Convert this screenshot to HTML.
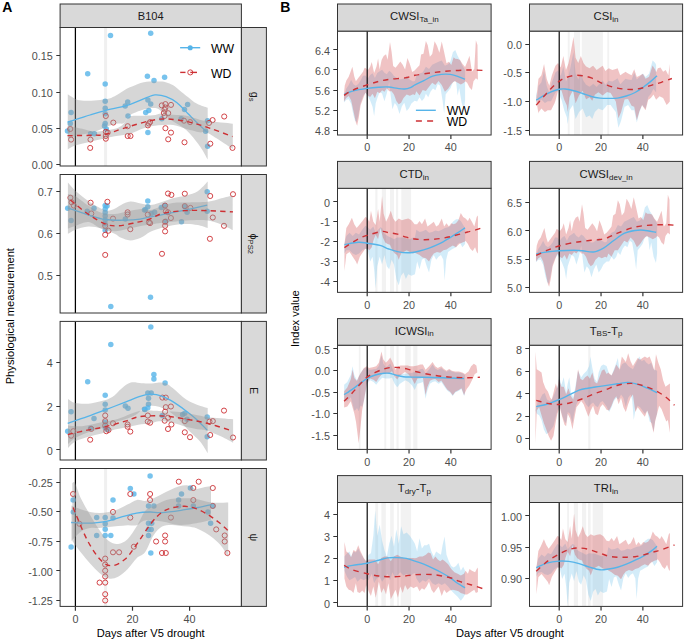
<!DOCTYPE html><html><head><meta charset="utf-8"><style>html,body{margin:0;padding:0;background:#fff;}svg{display:block;}text{font-family:"Liberation Sans",sans-serif;}</style></head><body>
<svg width="685" height="642" viewBox="0 0 685 642">
<rect x="0" y="0" width="685" height="642" fill="#fff"/>
<rect x="60.1" y="4" width="181.3" height="23.5" fill="#D9D9D9" stroke="#333" stroke-width="1"/>
<text x="150.75" y="19.9" font-size="11.1" fill="#1A1A1A" text-anchor="middle">B104</text>
<clipPath id="cA1"><rect x="60.1" y="27.5" width="181.3" height="138.5"/></clipPath>
<g clip-path="url(#cA1)">
<rect x="104.1" y="27.5" width="3" height="138.5" fill="#F0F0F0"/>
<line x1="75.4" y1="27.5" x2="75.4" y2="166" stroke="#000" stroke-width="1.25"/>
<circle cx="110.5" cy="35.5" r="2.75" fill="#56B4E9" fill-opacity="0.8"/>
<circle cx="150.7" cy="33.3" r="2.75" fill="#56B4E9" fill-opacity="0.8"/>
<circle cx="87.7" cy="73.8" r="2.75" fill="#56B4E9" fill-opacity="0.8"/>
<circle cx="147.4" cy="76.3" r="2.75" fill="#56B4E9" fill-opacity="0.8"/>
<circle cx="154" cy="80.5" r="2.75" fill="#56B4E9" fill-opacity="0.8"/>
<circle cx="164.6" cy="77.2" r="2.75" fill="#56B4E9" fill-opacity="0.8"/>
<circle cx="105.2" cy="84.1" r="2.75" fill="#56B4E9" fill-opacity="0.8"/>
<circle cx="105.2" cy="101.3" r="2.75" fill="#56B4E9" fill-opacity="0.8"/>
<circle cx="105.2" cy="108.2" r="2.75" fill="#56B4E9" fill-opacity="0.8"/>
<circle cx="105.2" cy="113.8" r="2.75" fill="#56B4E9" fill-opacity="0.8"/>
<circle cx="105.2" cy="123.5" r="2.75" fill="#56B4E9" fill-opacity="0.8"/>
<circle cx="106.3" cy="129" r="2.75" fill="#56B4E9" fill-opacity="0.8"/>
<circle cx="104.5" cy="126" r="2.75" fill="#56B4E9" fill-opacity="0.8"/>
<circle cx="71.1" cy="112.4" r="2.75" fill="#56B4E9" fill-opacity="0.8"/>
<circle cx="70.3" cy="123.5" r="2.75" fill="#56B4E9" fill-opacity="0.8"/>
<circle cx="67.5" cy="131" r="2.75" fill="#56B4E9" fill-opacity="0.8"/>
<circle cx="90.5" cy="133.7" r="2.75" fill="#56B4E9" fill-opacity="0.8"/>
<circle cx="94.4" cy="133.7" r="2.75" fill="#56B4E9" fill-opacity="0.8"/>
<circle cx="127.7" cy="102.1" r="2.75" fill="#56B4E9" fill-opacity="0.8"/>
<circle cx="125.2" cy="106" r="2.75" fill="#56B4E9" fill-opacity="0.8"/>
<circle cx="128" cy="116" r="2.75" fill="#56B4E9" fill-opacity="0.8"/>
<circle cx="147.9" cy="99.9" r="2.75" fill="#56B4E9" fill-opacity="0.8"/>
<circle cx="150.7" cy="104" r="2.75" fill="#56B4E9" fill-opacity="0.8"/>
<circle cx="145.7" cy="112.4" r="2.75" fill="#56B4E9" fill-opacity="0.8"/>
<circle cx="148.8" cy="110.4" r="2.75" fill="#56B4E9" fill-opacity="0.8"/>
<circle cx="147.9" cy="132.6" r="2.75" fill="#56B4E9" fill-opacity="0.8"/>
<circle cx="161.8" cy="118.8" r="2.75" fill="#56B4E9" fill-opacity="0.8"/>
<circle cx="184.5" cy="109.6" r="2.75" fill="#56B4E9" fill-opacity="0.8"/>
<circle cx="187.6" cy="104.6" r="2.75" fill="#56B4E9" fill-opacity="0.8"/>
<circle cx="181.2" cy="118.8" r="2.75" fill="#56B4E9" fill-opacity="0.8"/>
<circle cx="207.6" cy="120.7" r="2.75" fill="#56B4E9" fill-opacity="0.8"/>
<circle cx="205.6" cy="131.2" r="2.75" fill="#56B4E9" fill-opacity="0.8"/>
<circle cx="207.6" cy="146.2" r="2.75" fill="#56B4E9" fill-opacity="0.8"/>
<circle cx="70.3" cy="129" r="2.55" fill="none" stroke="#CD3034" stroke-width="0.9"/>
<circle cx="71.1" cy="139.6" r="2.55" fill="none" stroke="#CD3034" stroke-width="0.9"/>
<circle cx="90.5" cy="139.6" r="2.55" fill="none" stroke="#CD3034" stroke-width="0.9"/>
<circle cx="90.2" cy="147.9" r="2.55" fill="none" stroke="#CD3034" stroke-width="0.9"/>
<circle cx="105.8" cy="116" r="2.55" fill="none" stroke="#CD3034" stroke-width="0.9"/>
<circle cx="105.8" cy="131.8" r="2.55" fill="none" stroke="#CD3034" stroke-width="0.9"/>
<circle cx="105.8" cy="136" r="2.55" fill="none" stroke="#CD3034" stroke-width="0.9"/>
<circle cx="105.8" cy="138.7" r="2.55" fill="none" stroke="#CD3034" stroke-width="0.9"/>
<circle cx="107.7" cy="132.6" r="2.55" fill="none" stroke="#CD3034" stroke-width="0.9"/>
<circle cx="113.3" cy="122.6" r="2.55" fill="none" stroke="#CD3034" stroke-width="0.9"/>
<circle cx="127.7" cy="126.2" r="2.55" fill="none" stroke="#CD3034" stroke-width="0.9"/>
<circle cx="127.7" cy="136" r="2.55" fill="none" stroke="#CD3034" stroke-width="0.9"/>
<circle cx="130.5" cy="136" r="2.55" fill="none" stroke="#CD3034" stroke-width="0.9"/>
<circle cx="147.9" cy="125.4" r="2.55" fill="none" stroke="#CD3034" stroke-width="0.9"/>
<circle cx="148.8" cy="123.5" r="2.55" fill="none" stroke="#CD3034" stroke-width="0.9"/>
<circle cx="150.1" cy="122.1" r="2.55" fill="none" stroke="#CD3034" stroke-width="0.9"/>
<circle cx="161.8" cy="105.4" r="2.55" fill="none" stroke="#CD3034" stroke-width="0.9"/>
<circle cx="165.4" cy="104.1" r="2.55" fill="none" stroke="#CD3034" stroke-width="0.9"/>
<circle cx="171" cy="104.9" r="2.55" fill="none" stroke="#CD3034" stroke-width="0.9"/>
<circle cx="164.6" cy="109.6" r="2.55" fill="none" stroke="#CD3034" stroke-width="0.9"/>
<circle cx="168.2" cy="113.2" r="2.55" fill="none" stroke="#CD3034" stroke-width="0.9"/>
<circle cx="164.6" cy="116" r="2.55" fill="none" stroke="#CD3034" stroke-width="0.9"/>
<circle cx="165.4" cy="128.2" r="2.55" fill="none" stroke="#CD3034" stroke-width="0.9"/>
<circle cx="171" cy="132.6" r="2.55" fill="none" stroke="#CD3034" stroke-width="0.9"/>
<circle cx="168.2" cy="139.3" r="2.55" fill="none" stroke="#CD3034" stroke-width="0.9"/>
<circle cx="184" cy="120.7" r="2.55" fill="none" stroke="#CD3034" stroke-width="0.9"/>
<circle cx="190.1" cy="122.1" r="2.55" fill="none" stroke="#CD3034" stroke-width="0.9"/>
<circle cx="184.5" cy="142.3" r="2.55" fill="none" stroke="#CD3034" stroke-width="0.9"/>
<circle cx="209" cy="122.9" r="2.55" fill="none" stroke="#CD3034" stroke-width="0.9"/>
<circle cx="212.6" cy="120.1" r="2.55" fill="none" stroke="#CD3034" stroke-width="0.9"/>
<circle cx="224.2" cy="116.5" r="2.55" fill="none" stroke="#CD3034" stroke-width="0.9"/>
<circle cx="210.3" cy="143.7" r="2.55" fill="none" stroke="#CD3034" stroke-width="0.9"/>
<circle cx="232.5" cy="147.9" r="2.55" fill="none" stroke="#CD3034" stroke-width="0.9"/>
<circle cx="165.4" cy="107.5" r="2.55" fill="none" stroke="#CD3034" stroke-width="0.9"/>
<circle cx="163.8" cy="113" r="2.55" fill="none" stroke="#CD3034" stroke-width="0.9"/>
<path d="M67.8,94.3C68.78,94.9 71.75,96.92 73.7,97.9C75.65,98.88 76.58,99.72 79.5,100.2C82.42,100.68 87.3,100.9 91.2,100.8C95.1,100.7 99.58,100.08 102.9,99.6C106.22,99.12 108.57,98.78 111.1,97.9C113.63,97.02 115.77,95.67 118.1,94.3C120.43,92.93 122.78,91 125.1,89.7C127.42,88.4 128.88,87.75 132,86.5C135.12,85.25 139.4,83.03 143.8,82.2C148.2,81.37 154.75,81.5 158.4,81.5C162.05,81.5 163.23,81.57 165.7,82.2C168.17,82.83 170.77,83.83 173.2,85.3C175.63,86.77 178.08,89.23 180.3,91C182.52,92.77 183.7,93.77 186.5,95.9C189.3,98.03 193.57,101.82 197.1,103.8C200.63,105.78 205.93,107.13 207.7,107.8L207.7,159.5C206.37,157.25 203.23,150.87 199.7,146C196.17,141.13 190.92,134.38 186.5,130.3C182.08,126.22 176.62,123.88 173.2,121.5C169.78,119.12 167.98,117.68 166,116C164.02,114.32 163.05,112.73 161.3,111.4C159.55,110.07 158.42,108.32 155.5,108C152.58,107.68 148.18,108.25 143.8,109.5C139.42,110.75 132.5,113.25 129.2,115.5C125.9,117.75 125.85,121.65 124,123C122.15,124.35 120.65,123.12 118.1,123.6C115.55,124.08 112.6,124.55 108.7,125.9C104.8,127.25 98.65,130.35 94.7,131.7C90.75,133.05 88.5,133.22 85,134C81.5,134.78 76.57,135.73 73.7,136.4C70.83,137.07 68.78,137.73 67.8,138Z" fill="#999999" fill-opacity="0.4"/>
<path d="M67.5,122.1C69.58,121.45 76.25,119.38 80,118.2C83.75,117.02 85.83,116.27 90,115C94.17,113.73 98.82,112.2 105,110.6C111.18,109 120.18,107.55 127.1,105.4C134.02,103.25 141.87,99.45 146.5,97.7C151.13,95.95 151.65,95.08 154.9,94.9C158.15,94.72 162.32,95.3 166,96.6C169.68,97.9 173.32,99.83 177,102.7C180.68,105.57 184.4,110.1 188.1,113.8C191.8,117.5 195.98,121.8 199.2,124.9C202.42,128 206.03,131.15 207.4,132.4" fill="none" stroke="#56B4E9" stroke-width="1.3"/>
<path d="M67.8,126C68.78,126.17 70.83,126.42 73.7,127C76.57,127.58 81.5,128.72 85,129.5C88.5,130.28 90.75,131.62 94.7,131.7C98.65,131.78 104.8,130.67 108.7,130C112.6,129.33 115.55,128.78 118.1,127.7C120.65,126.62 122.15,125.37 124,123.5C125.85,121.63 125.9,117.78 129.2,116.5C132.5,115.22 139.42,116.05 143.8,115.8C148.18,115.55 152.8,115.33 155.5,115C158.2,114.67 157.05,113.85 160,113.8C162.95,113.75 168.78,114.37 173.2,114.7C177.62,115.03 182.08,114.97 186.5,115.8C190.92,116.63 196.17,118.82 199.7,119.7C203.23,120.58 202.18,120.43 207.7,121.1C213.22,121.77 228.62,123.27 232.8,123.7L232.8,148.9C228.62,146.25 213.22,135.77 207.7,133C202.18,130.23 203.23,132.97 199.7,132.3C196.17,131.63 190.92,130.22 186.5,129C182.08,127.78 177.88,125.62 173.2,125C168.52,124.38 163.3,124.77 158.4,125.3C153.5,125.83 148.67,126.75 143.8,128.2C138.93,129.65 134.07,132.67 129.2,134C124.33,135.33 119.47,135.28 114.6,136.2C109.73,137.12 104.93,138.37 100,139.5C95.07,140.63 89.38,141.92 85,143C80.62,144.08 76.57,144.92 73.7,146C70.83,147.08 68.78,148.92 67.8,149.5Z" fill="#999999" fill-opacity="0.4"/>
<path d="M67.5,135.6C69.92,135.58 77.42,135.57 82,135.5C86.58,135.43 91.15,135.37 95,135.2C98.85,135.03 100.37,135.63 105.1,134.5C109.83,133.37 115.98,130.68 123.4,128.4C130.82,126.12 142.37,122.37 149.6,120.8C156.83,119.23 160.3,118.82 166.8,119C173.3,119.18 181.33,120.33 188.6,121.9C195.87,123.47 203.08,125.95 210.4,128.4C217.72,130.85 228.82,135.23 232.5,136.6" fill="none" stroke="#CD3034" stroke-width="1.4" stroke-dasharray="5.2,4.2"/>
</g>
<rect x="60.1" y="27.5" width="181.3" height="138.5" fill="none" stroke="#333" stroke-width="1"/>
<rect x="241.4" y="27.5" width="25" height="138.5" fill="#D9D9D9" stroke="#333" stroke-width="1"/>
<g transform="translate(254.7,96.75) rotate(90)"><text x="0" y="0" font-size="10.8" fill="#1A1A1A" text-anchor="middle" dominant-baseline="central">g<tspan font-size="7.6" dy="2.6">s</tspan></text></g>
<line x1="56.3" y1="164.5" x2="60.1" y2="164.5" stroke="#333" stroke-width="1"/>
<text x="52.8" y="169" font-size="10.8" fill="#4D4D4D" text-anchor="end">0.00</text>
<line x1="56.3" y1="128.5" x2="60.1" y2="128.5" stroke="#333" stroke-width="1"/>
<text x="52.8" y="133" font-size="10.8" fill="#4D4D4D" text-anchor="end">0.05</text>
<line x1="56.3" y1="92.5" x2="60.1" y2="92.5" stroke="#333" stroke-width="1"/>
<text x="52.8" y="96.9" font-size="10.8" fill="#4D4D4D" text-anchor="end">0.10</text>
<line x1="56.3" y1="55.5" x2="60.1" y2="55.5" stroke="#333" stroke-width="1"/>
<text x="52.8" y="60.3" font-size="10.8" fill="#4D4D4D" text-anchor="end">0.15</text>
<clipPath id="cA2"><rect x="60.1" y="174.5" width="181.3" height="138.5"/></clipPath>
<g clip-path="url(#cA2)">
<line x1="75.4" y1="174.5" x2="75.4" y2="313" stroke="#000" stroke-width="1.25"/>
<circle cx="67.7" cy="208.3" r="2.75" fill="#56B4E9" fill-opacity="0.8"/>
<circle cx="71.1" cy="220.6" r="2.75" fill="#56B4E9" fill-opacity="0.8"/>
<circle cx="87.2" cy="211.2" r="2.75" fill="#56B4E9" fill-opacity="0.8"/>
<circle cx="94" cy="208.3" r="2.75" fill="#56B4E9" fill-opacity="0.8"/>
<circle cx="105.2" cy="205.6" r="2.75" fill="#56B4E9" fill-opacity="0.8"/>
<circle cx="105.2" cy="209" r="2.75" fill="#56B4E9" fill-opacity="0.8"/>
<circle cx="105.2" cy="212.5" r="2.75" fill="#56B4E9" fill-opacity="0.8"/>
<circle cx="105.2" cy="216" r="2.75" fill="#56B4E9" fill-opacity="0.8"/>
<circle cx="105.2" cy="220" r="2.75" fill="#56B4E9" fill-opacity="0.8"/>
<circle cx="105.2" cy="224" r="2.75" fill="#56B4E9" fill-opacity="0.8"/>
<circle cx="105.2" cy="230.3" r="2.75" fill="#56B4E9" fill-opacity="0.8"/>
<circle cx="107" cy="206" r="2.75" fill="#56B4E9" fill-opacity="0.8"/>
<circle cx="110.8" cy="306.5" r="2.75" fill="#56B4E9" fill-opacity="0.8"/>
<circle cx="125.3" cy="219.1" r="2.75" fill="#56B4E9" fill-opacity="0.8"/>
<circle cx="147.8" cy="201.1" r="2.75" fill="#56B4E9" fill-opacity="0.8"/>
<circle cx="145.5" cy="209.7" r="2.75" fill="#56B4E9" fill-opacity="0.8"/>
<circle cx="150.5" cy="297.3" r="2.75" fill="#56B4E9" fill-opacity="0.8"/>
<circle cx="147.8" cy="206.7" r="2.75" fill="#56B4E9" fill-opacity="0.8"/>
<circle cx="144.5" cy="210.1" r="2.75" fill="#56B4E9" fill-opacity="0.8"/>
<circle cx="151.2" cy="213.5" r="2.75" fill="#56B4E9" fill-opacity="0.8"/>
<circle cx="154.6" cy="212.3" r="2.75" fill="#56B4E9" fill-opacity="0.8"/>
<circle cx="161.3" cy="207.4" r="2.75" fill="#56B4E9" fill-opacity="0.8"/>
<circle cx="164.7" cy="205.6" r="2.75" fill="#56B4E9" fill-opacity="0.8"/>
<circle cx="165.8" cy="221.3" r="2.75" fill="#56B4E9" fill-opacity="0.8"/>
<circle cx="181.5" cy="221.8" r="2.75" fill="#56B4E9" fill-opacity="0.8"/>
<circle cx="184.8" cy="206.7" r="2.75" fill="#56B4E9" fill-opacity="0.8"/>
<circle cx="187.1" cy="212.3" r="2.75" fill="#56B4E9" fill-opacity="0.8"/>
<circle cx="207.2" cy="191.7" r="2.75" fill="#56B4E9" fill-opacity="0.8"/>
<circle cx="207.2" cy="211.2" r="2.75" fill="#56B4E9" fill-opacity="0.8"/>
<circle cx="70.4" cy="197.8" r="2.55" fill="none" stroke="#CD3034" stroke-width="0.9"/>
<circle cx="71.6" cy="202.3" r="2.55" fill="none" stroke="#CD3034" stroke-width="0.9"/>
<circle cx="73.8" cy="205.6" r="2.55" fill="none" stroke="#CD3034" stroke-width="0.9"/>
<circle cx="90.6" cy="202.7" r="2.55" fill="none" stroke="#CD3034" stroke-width="0.9"/>
<circle cx="91.3" cy="213.5" r="2.55" fill="none" stroke="#CD3034" stroke-width="0.9"/>
<circle cx="107.4" cy="201.8" r="2.55" fill="none" stroke="#CD3034" stroke-width="0.9"/>
<circle cx="113" cy="218.6" r="2.55" fill="none" stroke="#CD3034" stroke-width="0.9"/>
<circle cx="105.2" cy="225.8" r="2.55" fill="none" stroke="#CD3034" stroke-width="0.9"/>
<circle cx="105.2" cy="234.8" r="2.55" fill="none" stroke="#CD3034" stroke-width="0.9"/>
<circle cx="108.5" cy="230.7" r="2.55" fill="none" stroke="#CD3034" stroke-width="0.9"/>
<circle cx="105.2" cy="254.9" r="2.55" fill="none" stroke="#CD3034" stroke-width="0.9"/>
<circle cx="127.6" cy="212.3" r="2.55" fill="none" stroke="#CD3034" stroke-width="0.9"/>
<circle cx="127.6" cy="214.5" r="2.55" fill="none" stroke="#CD3034" stroke-width="0.9"/>
<circle cx="130.3" cy="229.2" r="2.55" fill="none" stroke="#CD3034" stroke-width="0.9"/>
<circle cx="147.8" cy="214.6" r="2.55" fill="none" stroke="#CD3034" stroke-width="0.9"/>
<circle cx="148.9" cy="222.4" r="2.55" fill="none" stroke="#CD3034" stroke-width="0.9"/>
<circle cx="168" cy="193.5" r="2.55" fill="none" stroke="#CD3034" stroke-width="0.9"/>
<circle cx="171.4" cy="194.9" r="2.55" fill="none" stroke="#CD3034" stroke-width="0.9"/>
<circle cx="184.8" cy="193.7" r="2.55" fill="none" stroke="#CD3034" stroke-width="0.9"/>
<circle cx="210.2" cy="196" r="2.55" fill="none" stroke="#CD3034" stroke-width="0.9"/>
<circle cx="233" cy="194.2" r="2.55" fill="none" stroke="#CD3034" stroke-width="0.9"/>
<circle cx="165.1" cy="205.6" r="2.55" fill="none" stroke="#CD3034" stroke-width="0.9"/>
<circle cx="165.8" cy="211.2" r="2.55" fill="none" stroke="#CD3034" stroke-width="0.9"/>
<circle cx="168" cy="212.3" r="2.55" fill="none" stroke="#CD3034" stroke-width="0.9"/>
<circle cx="184.8" cy="206.1" r="2.55" fill="none" stroke="#CD3034" stroke-width="0.9"/>
<circle cx="190.4" cy="207.9" r="2.55" fill="none" stroke="#CD3034" stroke-width="0.9"/>
<circle cx="170.9" cy="218" r="2.55" fill="none" stroke="#CD3034" stroke-width="0.9"/>
<circle cx="165.1" cy="221.8" r="2.55" fill="none" stroke="#CD3034" stroke-width="0.9"/>
<circle cx="165.1" cy="225.8" r="2.55" fill="none" stroke="#CD3034" stroke-width="0.9"/>
<circle cx="165.1" cy="231.4" r="2.55" fill="none" stroke="#CD3034" stroke-width="0.9"/>
<circle cx="150.1" cy="223.1" r="2.55" fill="none" stroke="#CD3034" stroke-width="0.9"/>
<circle cx="212.8" cy="217.5" r="2.55" fill="none" stroke="#CD3034" stroke-width="0.9"/>
<circle cx="224" cy="225.8" r="2.55" fill="none" stroke="#CD3034" stroke-width="0.9"/>
<circle cx="209.9" cy="238.8" r="2.55" fill="none" stroke="#CD3034" stroke-width="0.9"/>
<circle cx="162" cy="253.8" r="2.55" fill="none" stroke="#CD3034" stroke-width="0.9"/>
<path d="M67.9,182.6C69.1,183.92 71.7,187.43 75.1,190.5C78.5,193.57 83.92,197.95 88.3,201C92.68,204.05 98.12,207.17 101.4,208.8C104.68,210.43 105.8,210.8 108,210.8C110.2,210.8 112.42,209.78 114.6,208.8C116.78,207.82 118.48,206.1 121.1,204.9C123.72,203.7 127.02,201.83 130.3,201.6C133.58,201.37 137.52,202.93 140.8,203.5C144.08,204.07 146.98,205.08 150,205C153.02,204.92 155.12,204.13 158.9,203C162.68,201.87 168.08,199.47 172.7,198.2C177.32,196.93 182.43,196.55 186.6,195.4C190.77,194.25 194.18,193.62 197.7,191.3C201.22,188.98 206.03,183.13 207.7,181.5L207.7,228C206.03,227.5 201.22,225.68 197.7,225C194.18,224.32 190.77,223.87 186.6,223.9C182.43,223.93 177.32,224.4 172.7,225.2C168.08,226 162.68,227.57 158.9,228.7C155.12,229.83 153.02,230.48 150,232C146.98,233.52 144.08,236.4 140.8,237.8C137.52,239.2 133.58,240.4 130.3,240.4C127.02,240.4 123.72,238.9 121.1,237.8C118.48,236.7 117.88,235.33 114.6,233.8C111.32,232.27 105.78,229.8 101.4,228.6C97.02,227.4 92.68,226.38 88.3,226.6C83.92,226.82 78.5,228.7 75.1,229.9C71.7,231.1 69.1,233.15 67.9,233.8Z" fill="#999999" fill-opacity="0.4"/>
<path d="M67.7,207.9C70.95,209.02 80.95,212.67 87.2,214.6C93.45,216.53 98.85,218.57 105.2,219.5C111.55,220.43 119.5,220.27 125.3,220.2C131.1,220.13 133.82,220.03 140,219.1C146.18,218.17 154.93,216.1 162.4,214.6C169.87,213.1 177.33,211.67 184.8,210.1C192.27,208.53 203.47,206.02 207.2,205.2" fill="none" stroke="#56B4E9" stroke-width="1.3"/>
<path d="M67.9,194C69.1,194.33 71.7,194.07 75.1,196C78.5,197.93 83.92,202.8 88.3,205.6C92.68,208.4 97.02,211.4 101.4,212.8C105.78,214.2 110.33,214.22 114.6,214C118.87,213.78 122.63,212.33 127,211.5C131.37,210.67 136.97,209.25 140.8,209C144.63,208.75 146.98,210.3 150,210C153.02,209.7 155.12,208.37 158.9,207.2C162.68,206.03 168.08,203.8 172.7,203C177.32,202.2 180.77,202.62 186.6,202.4C192.43,202.18 201.92,202.4 207.7,201.7C213.48,201 217.13,199.25 221.3,198.2C225.47,197.15 230.8,195.87 232.7,195.4L232.7,230.1C230.8,229.17 225.47,226.12 221.3,224.5C217.13,222.88 213.48,221.08 207.7,220.4C201.92,219.72 192.43,220.17 186.6,220.4C180.77,220.63 177.32,221.33 172.7,221.8C168.08,222.27 162.68,222.75 158.9,223.2C155.12,223.65 153.02,224.03 150,224.5C146.98,224.97 144.63,225.25 140.8,226C136.97,226.75 131.37,228.13 127,229C122.63,229.87 118.87,231.27 114.6,231.2C110.33,231.13 105.78,230.13 101.4,228.6C97.02,227.07 92.68,222.43 88.3,222C83.92,221.57 78.5,224.9 75.1,226C71.7,227.1 69.1,228.17 67.9,228.6Z" fill="#999999" fill-opacity="0.4"/>
<path d="M70.4,200C73.2,202.25 81.4,209.5 87.2,213.5C93,217.5 99.97,221.95 105.2,224C110.43,226.05 113.37,226.07 118.6,225.8C123.83,225.53 131.37,223.53 136.6,222.4C141.83,221.27 145.7,220.48 150,219C154.3,217.52 156.6,214.9 162.4,213.5C168.2,212.1 177.33,211.08 184.8,210.6C192.27,210.12 199.17,210.38 207.2,210.6C215.23,210.82 228.7,211.68 233,211.9" fill="none" stroke="#CD3034" stroke-width="1.4" stroke-dasharray="5.2,4.2"/>
</g>
<rect x="60.1" y="174.5" width="181.3" height="138.5" fill="none" stroke="#333" stroke-width="1"/>
<rect x="241.4" y="174.5" width="25" height="138.5" fill="#D9D9D9" stroke="#333" stroke-width="1"/>
<g transform="translate(253.9,243.75) rotate(90)"><text x="0" y="0" font-size="10.8" fill="#1A1A1A" text-anchor="middle" dominant-baseline="central">ϕ<tspan font-size="7.6" dy="2.6">PS2</tspan></text></g>
<line x1="56.3" y1="275.5" x2="60.1" y2="275.5" stroke="#333" stroke-width="1"/>
<text x="52.8" y="280.2" font-size="10.8" fill="#4D4D4D" text-anchor="end">0.5</text>
<line x1="56.3" y1="233.5" x2="60.1" y2="233.5" stroke="#333" stroke-width="1"/>
<text x="52.8" y="238.3" font-size="10.8" fill="#4D4D4D" text-anchor="end">0.6</text>
<line x1="56.3" y1="191.5" x2="60.1" y2="191.5" stroke="#333" stroke-width="1"/>
<text x="52.8" y="196.4" font-size="10.8" fill="#4D4D4D" text-anchor="end">0.7</text>
<clipPath id="cA3"><rect x="60.1" y="321.4" width="181.3" height="138.6"/></clipPath>
<g clip-path="url(#cA3)">
<line x1="75.4" y1="321.4" x2="75.4" y2="460" stroke="#000" stroke-width="1.25"/>
<circle cx="71.1" cy="411.7" r="2.75" fill="#56B4E9" fill-opacity="0.8"/>
<circle cx="67.7" cy="431.2" r="2.75" fill="#56B4E9" fill-opacity="0.8"/>
<circle cx="87.7" cy="381.7" r="2.75" fill="#56B4E9" fill-opacity="0.8"/>
<circle cx="94" cy="418.4" r="2.75" fill="#56B4E9" fill-opacity="0.8"/>
<circle cx="105.2" cy="395.3" r="2.75" fill="#56B4E9" fill-opacity="0.8"/>
<circle cx="105.2" cy="404.3" r="2.75" fill="#56B4E9" fill-opacity="0.8"/>
<circle cx="105.2" cy="409.9" r="2.75" fill="#56B4E9" fill-opacity="0.8"/>
<circle cx="105.2" cy="422.2" r="2.75" fill="#56B4E9" fill-opacity="0.8"/>
<circle cx="105.2" cy="427.8" r="2.75" fill="#56B4E9" fill-opacity="0.8"/>
<circle cx="107.4" cy="429.6" r="2.75" fill="#56B4E9" fill-opacity="0.8"/>
<circle cx="110.8" cy="344.4" r="2.75" fill="#56B4E9" fill-opacity="0.8"/>
<circle cx="90.6" cy="428.3" r="2.75" fill="#56B4E9" fill-opacity="0.8"/>
<circle cx="125.3" cy="405.9" r="2.75" fill="#56B4E9" fill-opacity="0.8"/>
<circle cx="128" cy="408.3" r="2.75" fill="#56B4E9" fill-opacity="0.8"/>
<circle cx="144.4" cy="409.2" r="2.75" fill="#56B4E9" fill-opacity="0.8"/>
<circle cx="147.8" cy="393.1" r="2.75" fill="#56B4E9" fill-opacity="0.8"/>
<circle cx="150.8" cy="327" r="2.75" fill="#56B4E9" fill-opacity="0.8"/>
<circle cx="153.9" cy="374.5" r="2.75" fill="#56B4E9" fill-opacity="0.8"/>
<circle cx="153.9" cy="379" r="2.75" fill="#56B4E9" fill-opacity="0.8"/>
<circle cx="165.1" cy="383" r="2.75" fill="#56B4E9" fill-opacity="0.8"/>
<circle cx="151.2" cy="393.1" r="2.75" fill="#56B4E9" fill-opacity="0.8"/>
<circle cx="148.5" cy="398.2" r="2.75" fill="#56B4E9" fill-opacity="0.8"/>
<circle cx="148.5" cy="404.3" r="2.75" fill="#56B4E9" fill-opacity="0.8"/>
<circle cx="147.8" cy="407.7" r="2.75" fill="#56B4E9" fill-opacity="0.8"/>
<circle cx="144.9" cy="409.4" r="2.75" fill="#56B4E9" fill-opacity="0.8"/>
<circle cx="162.4" cy="415.5" r="2.75" fill="#56B4E9" fill-opacity="0.8"/>
<circle cx="182.6" cy="414.4" r="2.75" fill="#56B4E9" fill-opacity="0.8"/>
<circle cx="184.8" cy="413.3" r="2.75" fill="#56B4E9" fill-opacity="0.8"/>
<circle cx="187.1" cy="419.3" r="2.75" fill="#56B4E9" fill-opacity="0.8"/>
<circle cx="207.2" cy="417.1" r="2.75" fill="#56B4E9" fill-opacity="0.8"/>
<circle cx="207.2" cy="436.8" r="2.75" fill="#56B4E9" fill-opacity="0.8"/>
<circle cx="71.1" cy="435.7" r="2.55" fill="none" stroke="#CD3034" stroke-width="0.9"/>
<circle cx="73.3" cy="431.2" r="2.55" fill="none" stroke="#CD3034" stroke-width="0.9"/>
<circle cx="90.2" cy="439.7" r="2.55" fill="none" stroke="#CD3034" stroke-width="0.9"/>
<circle cx="91.3" cy="428.9" r="2.55" fill="none" stroke="#CD3034" stroke-width="0.9"/>
<circle cx="105.2" cy="415.5" r="2.55" fill="none" stroke="#CD3034" stroke-width="0.9"/>
<circle cx="105.2" cy="421.1" r="2.55" fill="none" stroke="#CD3034" stroke-width="0.9"/>
<circle cx="105.2" cy="425.6" r="2.55" fill="none" stroke="#CD3034" stroke-width="0.9"/>
<circle cx="106.3" cy="431.2" r="2.55" fill="none" stroke="#CD3034" stroke-width="0.9"/>
<circle cx="108.5" cy="430" r="2.55" fill="none" stroke="#CD3034" stroke-width="0.9"/>
<circle cx="113" cy="423.3" r="2.55" fill="none" stroke="#CD3034" stroke-width="0.9"/>
<circle cx="127.6" cy="424.5" r="2.55" fill="none" stroke="#CD3034" stroke-width="0.9"/>
<circle cx="127.6" cy="426.7" r="2.55" fill="none" stroke="#CD3034" stroke-width="0.9"/>
<circle cx="130.3" cy="431.6" r="2.55" fill="none" stroke="#CD3034" stroke-width="0.9"/>
<circle cx="147.8" cy="415.5" r="2.55" fill="none" stroke="#CD3034" stroke-width="0.9"/>
<circle cx="147.8" cy="421.6" r="2.55" fill="none" stroke="#CD3034" stroke-width="0.9"/>
<circle cx="150.1" cy="422.7" r="2.55" fill="none" stroke="#CD3034" stroke-width="0.9"/>
<circle cx="162.4" cy="397.6" r="2.55" fill="none" stroke="#CD3034" stroke-width="0.9"/>
<circle cx="165.8" cy="397.6" r="2.55" fill="none" stroke="#CD3034" stroke-width="0.9"/>
<circle cx="165.8" cy="407.2" r="2.55" fill="none" stroke="#CD3034" stroke-width="0.9"/>
<circle cx="170.9" cy="406.5" r="2.55" fill="none" stroke="#CD3034" stroke-width="0.9"/>
<circle cx="165.1" cy="411.7" r="2.55" fill="none" stroke="#CD3034" stroke-width="0.9"/>
<circle cx="168" cy="417.7" r="2.55" fill="none" stroke="#CD3034" stroke-width="0.9"/>
<circle cx="164.7" cy="420.7" r="2.55" fill="none" stroke="#CD3034" stroke-width="0.9"/>
<circle cx="171.4" cy="424.5" r="2.55" fill="none" stroke="#CD3034" stroke-width="0.9"/>
<circle cx="168" cy="429" r="2.55" fill="none" stroke="#CD3034" stroke-width="0.9"/>
<circle cx="184.8" cy="421.1" r="2.55" fill="none" stroke="#CD3034" stroke-width="0.9"/>
<circle cx="184.8" cy="432.3" r="2.55" fill="none" stroke="#CD3034" stroke-width="0.9"/>
<circle cx="190" cy="437.2" r="2.55" fill="none" stroke="#CD3034" stroke-width="0.9"/>
<circle cx="209.5" cy="421.6" r="2.55" fill="none" stroke="#CD3034" stroke-width="0.9"/>
<circle cx="212.8" cy="421.1" r="2.55" fill="none" stroke="#CD3034" stroke-width="0.9"/>
<circle cx="224" cy="410.6" r="2.55" fill="none" stroke="#CD3034" stroke-width="0.9"/>
<circle cx="210.2" cy="435" r="2.55" fill="none" stroke="#CD3034" stroke-width="0.9"/>
<circle cx="233" cy="437.5" r="2.55" fill="none" stroke="#CD3034" stroke-width="0.9"/>
<path d="M68,399.1C69.2,399.77 71.78,402.33 75.2,403.1C78.62,403.87 84.08,404.03 88.5,403.7C92.92,403.37 97.73,402.2 101.7,401.1C105.67,400 108.98,399.2 112.3,397.1C115.62,395 118.52,390.92 121.6,388.5C124.68,386.08 127.5,383.48 130.8,382.6C134.1,381.72 137.87,383.05 141.4,383.2C144.93,383.35 149.08,383.62 152,383.5C154.92,383.38 156.6,382.55 158.9,382.5C161.2,382.45 163.5,382.28 165.8,383.2C168.1,384.12 170.38,386.15 172.7,388C175.02,389.85 177.38,392.33 179.7,394.3C182.02,396.27 184.3,398.3 186.6,399.8C188.9,401.3 191.18,402.25 193.5,403.3C195.82,404.35 198.13,405.3 200.5,406.1C202.87,406.9 206.5,407.77 207.7,408.1L207.7,453.2C206.5,451.35 202.87,445.13 200.5,442.1C198.13,439.07 195.82,437.3 193.5,435C191.18,432.7 188.9,430.72 186.6,428.3C184.3,425.88 182.02,422.88 179.7,420.5C177.38,418.12 175.02,415.83 172.7,414C170.38,412.17 168.1,410.7 165.8,409.5C163.5,408.3 161.22,407.42 158.9,406.8C156.58,406.18 154.22,405.85 151.9,405.8C149.58,405.75 147.48,405.13 145,406.5C142.52,407.87 139.8,412.03 137,414C134.2,415.97 131.88,416.92 128.2,418.3C124.52,419.68 119.32,420.65 114.9,422.3C110.48,423.95 106.1,426.55 101.7,428.2C97.3,429.85 92.92,430.57 88.5,432.2C84.08,433.83 78.62,436.02 75.2,438C71.78,439.98 69.2,443.08 68,444.1Z" fill="#999999" fill-opacity="0.4"/>
<path d="M67.7,423.3C70.95,422.18 80.95,418.83 87.2,416.6C93.45,414.37 98.85,412.32 105.2,409.9C111.55,407.48 119.5,404.35 125.3,402.1C131.1,399.85 135.68,397.72 140,396.4C144.32,395.08 147.47,394.2 151.2,394.2C154.93,394.2 158.67,395.08 162.4,396.4C166.13,397.72 169.87,399.85 173.6,402.1C177.33,404.35 181.07,407.1 184.8,409.9C188.53,412.7 192.27,415.53 196,418.9C199.73,422.27 205.33,428.23 207.2,430.1" fill="none" stroke="#56B4E9" stroke-width="1.3"/>
<path d="M68,425.6C70.32,425.7 76.28,426.75 81.9,426.2C87.52,425.65 95.75,423.5 101.7,422.3C107.65,421.1 112.75,420.43 117.6,419C122.45,417.57 126.83,415.12 130.8,413.7C134.77,412.28 139.03,411.08 141.4,410.5C143.77,409.92 142.08,410.13 145,410.2C147.92,410.27 154.28,410.67 158.9,410.9C163.52,411.13 168.08,411.25 172.7,411.6C177.32,411.95 181.97,412.3 186.6,413C191.23,413.7 196.98,415.1 200.5,415.8C204.02,416.5 202.27,416.63 207.7,417.2C213.13,417.77 228.87,418.87 233.1,419.2L233.1,442.8C231.13,441.77 225.53,438.57 221.3,436.6C217.07,434.63 211.17,432.17 207.7,431C204.23,429.83 204.02,430.28 200.5,429.6C196.98,428.92 191.23,428.05 186.6,426.9C181.97,425.75 177.32,423.63 172.7,422.7C168.08,421.77 162.35,421.27 158.9,421.3C155.45,421.33 154.92,422.4 152,422.9C149.08,423.4 145.37,423.63 141.4,424.3C137.43,424.97 132.62,426.02 128.2,426.9C123.78,427.78 119.32,428.5 114.9,429.6C110.48,430.7 106.1,432.3 101.7,433.5C97.3,434.7 92.92,435.47 88.5,436.8C84.08,438.13 78.62,439.62 75.2,441.5C71.78,443.38 69.2,447 68,448.1Z" fill="#999999" fill-opacity="0.4"/>
<path d="M67.7,434.6C70.95,433.85 80.95,431.42 87.2,430.1C93.45,428.78 98.85,428.2 105.2,426.7C111.55,425.2 119.5,422.78 125.3,421.1C131.1,419.42 133.82,417.45 140,416.6C146.18,415.75 154.93,415.62 162.4,416C169.87,416.38 177.33,417.68 184.8,418.9C192.27,420.12 199.72,421.43 207.2,423.3C214.68,425.17 225.95,428.97 229.7,430.1" fill="none" stroke="#CD3034" stroke-width="1.4" stroke-dasharray="5.2,4.2"/>
</g>
<rect x="60.1" y="321.4" width="181.3" height="138.6" fill="none" stroke="#333" stroke-width="1"/>
<rect x="241.4" y="321.4" width="25" height="138.6" fill="#D9D9D9" stroke="#333" stroke-width="1"/>
<g transform="translate(253.9,390.7) rotate(90)"><text x="0" y="0" font-size="10.8" fill="#1A1A1A" text-anchor="middle" dominant-baseline="central">E</text></g>
<line x1="56.3" y1="449.5" x2="60.1" y2="449.5" stroke="#333" stroke-width="1"/>
<text x="52.8" y="454.5" font-size="10.8" fill="#4D4D4D" text-anchor="end">0</text>
<line x1="56.3" y1="406.5" x2="60.1" y2="406.5" stroke="#333" stroke-width="1"/>
<text x="52.8" y="410.8" font-size="10.8" fill="#4D4D4D" text-anchor="end">2</text>
<line x1="56.3" y1="362.5" x2="60.1" y2="362.5" stroke="#333" stroke-width="1"/>
<text x="52.8" y="366.9" font-size="10.8" fill="#4D4D4D" text-anchor="end">4</text>
<clipPath id="cA4"><rect x="60.1" y="468.5" width="181.3" height="137.9"/></clipPath>
<g clip-path="url(#cA4)">
<rect x="104.1" y="468.5" width="3" height="137.9" fill="#F0F0F0"/>
<line x1="75.4" y1="468.5" x2="75.4" y2="606.4" stroke="#000" stroke-width="1.25"/>
<circle cx="73.1" cy="500.1" r="2.75" fill="#56B4E9" fill-opacity="0.8"/>
<circle cx="73.3" cy="512" r="2.75" fill="#56B4E9" fill-opacity="0.8"/>
<circle cx="71.1" cy="547.1" r="2.75" fill="#56B4E9" fill-opacity="0.8"/>
<circle cx="96.7" cy="517.6" r="2.75" fill="#56B4E9" fill-opacity="0.8"/>
<circle cx="96.7" cy="535.5" r="2.75" fill="#56B4E9" fill-opacity="0.8"/>
<circle cx="105.2" cy="517.6" r="2.75" fill="#56B4E9" fill-opacity="0.8"/>
<circle cx="105.2" cy="523.8" r="2.75" fill="#56B4E9" fill-opacity="0.8"/>
<circle cx="105.2" cy="529.2" r="2.75" fill="#56B4E9" fill-opacity="0.8"/>
<circle cx="105.2" cy="535.5" r="2.75" fill="#56B4E9" fill-opacity="0.8"/>
<circle cx="110.8" cy="535.5" r="2.75" fill="#56B4E9" fill-opacity="0.8"/>
<circle cx="113" cy="500.1" r="2.75" fill="#56B4E9" fill-opacity="0.8"/>
<circle cx="113" cy="518" r="2.75" fill="#56B4E9" fill-opacity="0.8"/>
<circle cx="130.3" cy="488.4" r="2.75" fill="#56B4E9" fill-opacity="0.8"/>
<circle cx="133.9" cy="494" r="2.75" fill="#56B4E9" fill-opacity="0.8"/>
<circle cx="150.1" cy="476.1" r="2.75" fill="#56B4E9" fill-opacity="0.8"/>
<circle cx="148.5" cy="505.9" r="2.75" fill="#56B4E9" fill-opacity="0.8"/>
<circle cx="153.9" cy="505.9" r="2.75" fill="#56B4E9" fill-opacity="0.8"/>
<circle cx="148.5" cy="523.2" r="2.75" fill="#56B4E9" fill-opacity="0.8"/>
<circle cx="151.7" cy="523.2" r="2.75" fill="#56B4E9" fill-opacity="0.8"/>
<circle cx="148.5" cy="529.4" r="2.75" fill="#56B4E9" fill-opacity="0.8"/>
<circle cx="151.2" cy="529.4" r="2.75" fill="#56B4E9" fill-opacity="0.8"/>
<circle cx="148.5" cy="535.5" r="2.75" fill="#56B4E9" fill-opacity="0.8"/>
<circle cx="150.8" cy="553" r="2.75" fill="#56B4E9" fill-opacity="0.8"/>
<circle cx="181.5" cy="494" r="2.75" fill="#56B4E9" fill-opacity="0.8"/>
<circle cx="178.6" cy="500.1" r="2.75" fill="#56B4E9" fill-opacity="0.8"/>
<circle cx="178.6" cy="505.9" r="2.75" fill="#56B4E9" fill-opacity="0.8"/>
<circle cx="190.4" cy="488" r="2.75" fill="#56B4E9" fill-opacity="0.8"/>
<circle cx="193.3" cy="505.9" r="2.75" fill="#56B4E9" fill-opacity="0.8"/>
<circle cx="207.9" cy="512" r="2.75" fill="#56B4E9" fill-opacity="0.8"/>
<circle cx="210.6" cy="523.2" r="2.75" fill="#56B4E9" fill-opacity="0.8"/>
<circle cx="212.8" cy="505.9" r="2.75" fill="#56B4E9" fill-opacity="0.8"/>
<circle cx="73.1" cy="494" r="2.55" fill="none" stroke="#CD3034" stroke-width="0.9"/>
<circle cx="79.4" cy="523.8" r="2.55" fill="none" stroke="#CD3034" stroke-width="0.9"/>
<circle cx="113" cy="512" r="2.55" fill="none" stroke="#CD3034" stroke-width="0.9"/>
<circle cx="113" cy="552.3" r="2.55" fill="none" stroke="#CD3034" stroke-width="0.9"/>
<circle cx="119.1" cy="552.3" r="2.55" fill="none" stroke="#CD3034" stroke-width="0.9"/>
<circle cx="130.3" cy="494" r="2.55" fill="none" stroke="#CD3034" stroke-width="0.9"/>
<circle cx="130.3" cy="517.6" r="2.55" fill="none" stroke="#CD3034" stroke-width="0.9"/>
<circle cx="133.9" cy="546.7" r="2.55" fill="none" stroke="#CD3034" stroke-width="0.9"/>
<circle cx="105.2" cy="558.6" r="2.55" fill="none" stroke="#CD3034" stroke-width="0.9"/>
<circle cx="105.2" cy="564.6" r="2.55" fill="none" stroke="#CD3034" stroke-width="0.9"/>
<circle cx="105.2" cy="570.7" r="2.55" fill="none" stroke="#CD3034" stroke-width="0.9"/>
<circle cx="105.2" cy="576.5" r="2.55" fill="none" stroke="#CD3034" stroke-width="0.9"/>
<circle cx="105.2" cy="582.6" r="2.55" fill="none" stroke="#CD3034" stroke-width="0.9"/>
<circle cx="99.6" cy="582.6" r="2.55" fill="none" stroke="#CD3034" stroke-width="0.9"/>
<circle cx="105.2" cy="594.2" r="2.55" fill="none" stroke="#CD3034" stroke-width="0.9"/>
<circle cx="105.2" cy="600.5" r="2.55" fill="none" stroke="#CD3034" stroke-width="0.9"/>
<circle cx="150.1" cy="494" r="2.55" fill="none" stroke="#CD3034" stroke-width="0.9"/>
<circle cx="150.1" cy="500.1" r="2.55" fill="none" stroke="#CD3034" stroke-width="0.9"/>
<circle cx="178.8" cy="481.7" r="2.55" fill="none" stroke="#CD3034" stroke-width="0.9"/>
<circle cx="193.3" cy="488" r="2.55" fill="none" stroke="#CD3034" stroke-width="0.9"/>
<circle cx="198.7" cy="481.7" r="2.55" fill="none" stroke="#CD3034" stroke-width="0.9"/>
<circle cx="212.8" cy="488" r="2.55" fill="none" stroke="#CD3034" stroke-width="0.9"/>
<circle cx="193.3" cy="500.1" r="2.55" fill="none" stroke="#CD3034" stroke-width="0.9"/>
<circle cx="212.8" cy="505.9" r="2.55" fill="none" stroke="#CD3034" stroke-width="0.9"/>
<circle cx="170.9" cy="517.6" r="2.55" fill="none" stroke="#CD3034" stroke-width="0.9"/>
<circle cx="216.2" cy="529.4" r="2.55" fill="none" stroke="#CD3034" stroke-width="0.9"/>
<circle cx="224.7" cy="535.5" r="2.55" fill="none" stroke="#CD3034" stroke-width="0.9"/>
<circle cx="224.7" cy="541.5" r="2.55" fill="none" stroke="#CD3034" stroke-width="0.9"/>
<circle cx="227.4" cy="553" r="2.55" fill="none" stroke="#CD3034" stroke-width="0.9"/>
<circle cx="156.1" cy="541.5" r="2.55" fill="none" stroke="#CD3034" stroke-width="0.9"/>
<circle cx="165.1" cy="535.5" r="2.55" fill="none" stroke="#CD3034" stroke-width="0.9"/>
<circle cx="165.1" cy="541.5" r="2.55" fill="none" stroke="#CD3034" stroke-width="0.9"/>
<circle cx="162" cy="553" r="2.55" fill="none" stroke="#CD3034" stroke-width="0.9"/>
<circle cx="165.8" cy="553" r="2.55" fill="none" stroke="#CD3034" stroke-width="0.9"/>
<path d="M71.4,505.6C72.95,506.22 77.58,508.22 80.7,509.3C83.82,510.38 86.98,511.48 90.1,512.1C93.22,512.72 96.28,513 99.4,513C102.52,513 105.68,512.72 108.8,512.1C111.92,511.48 114.98,510.55 118.1,509.3C121.22,508.05 124.37,506.17 127.5,504.6C130.63,503.03 133.98,500.5 136.9,499.9C139.82,499.3 142.22,501.27 145,501C147.78,500.73 150.75,499.47 153.6,498.3C156.45,497.13 159.25,495.43 162.1,494C164.95,492.57 167.83,490.98 170.7,489.7C173.57,488.42 176.43,487.02 179.3,486.3C182.17,485.58 185.05,484.97 187.9,485.4C190.75,485.83 193.55,488.62 196.4,488.9C199.25,489.18 202.57,487.53 205,487.1C207.43,486.67 210,486.43 211,486.3L211,519.7C208.57,520.28 201.68,522.33 196.4,523.2C191.12,524.07 185.02,525.2 179.3,524.9C173.58,524.6 167.82,522.13 162.1,521.4C156.38,520.67 149.2,519.87 145,520.5C140.8,521.13 139.82,524.42 136.9,525.2C133.98,525.98 130.63,525.05 127.5,525.2C124.37,525.35 121.22,525.78 118.1,526.1C114.98,526.42 111.92,526.78 108.8,527.1C105.68,527.42 102.52,527.85 99.4,528C96.28,528.15 93.22,527.37 90.1,528C86.98,528.63 83.82,529.62 80.7,531.8C77.58,533.98 72.95,539.55 71.4,541.1Z" fill="#999999" fill-opacity="0.4"/>
<path d="M71.1,522.5C73.78,522.62 81.52,523.35 87.2,523.2C92.88,523.05 99.58,522.62 105.2,521.6C110.82,520.58 115.67,518.52 120.9,517.1C126.13,515.68 131.75,513.95 136.6,513.1C141.45,512.25 145.7,512.08 150,512C154.3,511.92 156.6,512.98 162.4,512.6C168.2,512.22 178.82,510.55 184.8,509.7C190.78,508.85 193.82,508.35 198.3,507.5C202.78,506.65 209.47,505.08 211.7,504.6" fill="none" stroke="#56B4E9" stroke-width="1.3"/>
<path d="M72.3,483C72.77,483.02 73.7,480.58 75.1,483.1C76.5,485.62 78.2,492.8 80.7,498.1C83.2,503.4 86.98,509.6 90.1,514.9C93.22,520.2 96.28,525.53 99.4,529.9C102.52,534.27 105.68,538.77 108.8,541.1C111.92,543.43 114.98,544.22 118.1,543.9C121.22,543.58 124.37,542.17 127.5,539.2C130.63,536.23 133.98,530.77 136.9,526.1C139.82,521.43 142.22,514.55 145,511.2C147.78,507.85 150.75,507.58 153.6,506C156.45,504.42 159.25,502.85 162.1,501.7C164.95,500.55 167.83,499.67 170.7,499.1C173.57,498.53 176.43,498.43 179.3,498.3C182.17,498.17 185.05,498.17 187.9,498.3C190.75,498.43 192.55,498.38 196.4,499.1C200.25,499.82 205.7,502.02 211,502.6C216.3,503.18 225.33,502.6 228.2,502.6L228.2,557.4C227.2,555.7 224.63,550.33 222.2,547.2C219.77,544.07 216.47,541.03 213.6,538.6C210.73,536.17 207.87,534.32 205,532.6C202.13,530.88 199.25,529.3 196.4,528.3C193.55,527.3 190.75,527.03 187.9,526.6C185.05,526.17 182.17,525.98 179.3,525.7C176.43,525.42 173.57,524.75 170.7,524.9C167.83,525.05 164.95,524.88 162.1,526.6C159.25,528.32 156.45,530.92 153.6,535.2C150.75,539.48 147.78,548.5 145,552.3C142.22,556.1 139.82,555.18 136.9,558C133.98,560.82 130.63,566.08 127.5,569.2C124.37,572.32 121.22,575.15 118.1,576.7C114.98,578.25 111.92,579.13 108.8,578.5C105.68,577.87 102.52,575.38 99.4,572.9C96.28,570.42 93.22,567.03 90.1,563.6C86.98,560.17 83.67,556.05 80.7,552.3C77.73,548.55 73.7,542.97 72.3,541.1Z" fill="#999999" fill-opacity="0.4"/>
<path d="M73.1,507.5C75.45,512.92 82.6,531.23 87.2,540C91.8,548.77 96.58,555.82 100.7,560.1C104.82,564.38 107.8,565.88 111.9,565.7C116,565.52 121.18,562.55 125.3,559C129.42,555.45 132.28,550.37 136.6,544.4C140.92,538.43 146.9,528.6 151.2,523.2C155.5,517.8 158.67,514.62 162.4,512C166.13,509.38 169.87,508.45 173.6,507.5C177.33,506.55 181.07,506.12 184.8,506.3C188.53,506.48 192.27,507.28 196,508.6C199.73,509.92 203.47,511.97 207.2,514.2C210.93,516.43 214.85,519.2 218.4,522C221.95,524.8 226.82,529.5 228.5,531" fill="none" stroke="#CD3034" stroke-width="1.4" stroke-dasharray="5.2,4.2"/>
</g>
<rect x="60.1" y="468.5" width="181.3" height="137.9" fill="none" stroke="#333" stroke-width="1"/>
<rect x="241.4" y="468.5" width="25" height="137.9" fill="#D9D9D9" stroke="#333" stroke-width="1"/>
<g transform="translate(253.9,537.45) rotate(90)"><text x="0" y="0" font-size="10.8" fill="#1A1A1A" text-anchor="middle" dominant-baseline="central">ψ</text></g>
<line x1="56.3" y1="600.5" x2="60.1" y2="600.5" stroke="#333" stroke-width="1"/>
<text x="52.8" y="605.2" font-size="10.8" fill="#4D4D4D" text-anchor="end">-1.25</text>
<line x1="56.3" y1="570.5" x2="60.1" y2="570.5" stroke="#333" stroke-width="1"/>
<text x="52.8" y="575.6" font-size="10.8" fill="#4D4D4D" text-anchor="end">-1.00</text>
<line x1="56.3" y1="541.5" x2="60.1" y2="541.5" stroke="#333" stroke-width="1"/>
<text x="52.8" y="546" font-size="10.8" fill="#4D4D4D" text-anchor="end">-0.75</text>
<line x1="56.3" y1="511.5" x2="60.1" y2="511.5" stroke="#333" stroke-width="1"/>
<text x="52.8" y="516.4" font-size="10.8" fill="#4D4D4D" text-anchor="end">-0.50</text>
<line x1="56.3" y1="482.5" x2="60.1" y2="482.5" stroke="#333" stroke-width="1"/>
<text x="52.8" y="486.8" font-size="10.8" fill="#4D4D4D" text-anchor="end">-0.25</text>
<line x1="75.4" y1="606.4" x2="75.4" y2="610.7" stroke="#333" stroke-width="1.2"/>
<text x="75.4" y="623" font-size="10.8" fill="#4D4D4D" text-anchor="middle">0</text>
<line x1="132.5" y1="606.4" x2="132.5" y2="610.7" stroke="#333" stroke-width="1.2"/>
<text x="132.5" y="623" font-size="10.8" fill="#4D4D4D" text-anchor="middle">20</text>
<line x1="189.6" y1="606.4" x2="189.6" y2="610.7" stroke="#333" stroke-width="1.2"/>
<text x="189.6" y="623" font-size="10.8" fill="#4D4D4D" text-anchor="middle">40</text>
<line x1="180.1" y1="47.7" x2="200.2" y2="47.7" stroke="#56B4E9" stroke-width="1.4"/>
<circle cx="190.2" cy="47.8" r="2.55" fill="#56B4E9"/>
<line x1="180.2" y1="72.4" x2="185.5" y2="72.4" stroke="#CD3034" stroke-width="1.4"/>
<line x1="190.3" y1="72.4" x2="197.0" y2="72.4" stroke="#CD3034" stroke-width="1.4"/>
<circle cx="190.3" cy="72.4" r="2.55" fill="none" stroke="#CD3034" stroke-width="0.9"/>
<text x="210.9" y="52.6" font-size="12.3" fill="#000" text-anchor="start">WW</text>
<text x="210.9" y="78" font-size="12.3" fill="#000" text-anchor="start">WD</text>
<text x="150.7" y="637.3" font-size="11.1" fill="#000" text-anchor="middle">Days after V5 drought</text>
<text x="0" y="0" font-size="11.15" fill="#000" text-anchor="middle" transform="translate(14.2,316.2) rotate(-90)">Physiological measurement</text>
<text x="2.3" y="11.8" font-size="14" fill="#000" text-anchor="start" font-weight="bold">A</text>
<clipPath id="cB00"><rect x="337.5" y="31.1" width="153.6" height="103.9"/></clipPath>
<g clip-path="url(#cB00)">
<path d="M343.97,96.97L346.35,88.62L348.73,85.04L351.11,79.87L353.49,84.26L355.87,85.67L358.25,83.91L360.63,80.56L363.02,75.63L365.4,75.45L367.78,78.45L370.16,75.09L372.54,73.32L374.92,77.91L377.3,72.96L379.68,71.27L382.06,69.68L384.44,72.7L386.83,74.13L389.21,70.87L391.59,72.66L393.97,75.94L396.35,77.62L398.73,79.22L401.11,79.14L403.49,78.48L406.67,76.12L409.84,79.78L413.02,81.48L414.92,80.98L416.35,75.79L419.52,73.43L422.7,72.61L425.87,66.8L429.05,68.92L432.22,64.68L435.4,63.3L438.57,61.87L441.75,60.54L444.92,65.71L448.1,64.23L450.48,61.24L452.86,52.19L455.24,50.01L457.62,55.84L460,60.3L462.38,65.56L465.08,70.23L465.08,100.39L463.97,109.55L461.59,102.7L459.21,87.92L457.62,95.52L456.03,81.03L452.86,82.35L450.48,88.22L448.1,91.22L445.71,94.31L444.13,113.3L442.54,100.42L440.16,85.76L437.78,84.05L435.4,90.28L433.02,88.58L430.63,91.4L428.25,97.36L425.87,93.78L424.29,98.28L421.9,101.02L419.52,97.24L417.14,101.39L414.6,100.77L411.43,103.47L409.05,108.23L406.67,111.04L404.29,102.67L401.9,106.3L399.52,114.11L397.14,106.23L394.76,102.95L392.38,109.2L390.79,96.44L389.21,81.98L386.83,93.18L384.44,101.27L382.06,93.49L379.68,91.9L377.3,98.36L375.71,103.24L374.13,116.06L372.54,106.66L370.16,100.49L367.78,95.91L365.4,92.91L363.02,96.26L360.63,102.79L358.25,115.66L356.67,122.12L355.08,120.65L353.49,115.21L351.11,103.68L348.73,99.32L346.35,99.73L343.97,102.52L343.97,96.97Z" fill="#56B4E9" fill-opacity="0.26"/>
<path d="M343.97,93.49L344.76,85.41L346.35,80.4L348.73,76.85L351.11,70.13L352.38,66.76L354.29,76.4L355.87,81.29L358.25,78.12L360.63,74.95L363.02,71.78L364.6,67.82L366.19,68.62L367.78,70.15L370.16,66.83L371.75,61.97L374.13,72.93L376.51,66.43L378.1,58.39L379.68,69.5L381.59,60.06L383.65,55.98L386.03,54.23L387.62,59.68L390,42.06L391.59,51.64L393.17,66L395.56,67.7L397.94,64.64L400.32,61.53L402.7,64.69L405.08,69.43L407.46,57.89L409.84,64.12L412.22,72.03L414.6,70.41L417.14,67.68L419.52,65.22L421.11,54.58L423.49,53.71L425.87,40.91L427.78,45.27L429.84,56.81L432.22,54.12L434.6,41.21L436.98,45.78L439.37,52.73L441.75,41.42L444.13,52.09L446.51,63.23L448.89,61.67L451.27,64.93L453.65,57.15L455.24,58.83L457.62,58.98L460,59.93L462.38,63.86L465.08,66.93L467.14,62.09L469.52,55.79L471.9,71.75L474.29,68.67L475.87,40.15L477.46,44.89L477.94,79.78L477.94,79.78L475.87,78.25L473.49,81.34L471.9,90.01L469.52,87.54L467.14,82.73L465.08,81.22L463.97,82.85L460.79,84.56L457.62,82.79L454.44,81L451.27,83.98L448.1,88.65L444.92,91.78L441.75,85.07L438.57,81.1L435.4,85.06L432.22,82.7L429.05,86.8L425.87,90.91L422.7,89.98L419.52,95.38L416.35,91.25L414.92,95.01L413.02,94.24L409.84,95.87L406.67,94.55L403.49,98.01L401.11,102.79L398.73,104.36L396.35,101.07L393.97,94.61L391.59,91.32L389.21,91.32L386.83,88.3L384.44,91.64L382.06,90.21L379.68,93.31L377.3,91.78L374.92,98.27L372.54,93.66L370.16,96.99L367.78,95.55L365.4,92.42L363.02,98.77L360.63,105.11L358.73,117.8L357.14,125.73L355.87,122.56L353.49,111.25L351.11,100.29L348.73,95.9L346.35,97.86L343.97,101.43L343.97,93.49Z" fill="#CD3034" fill-opacity="0.29"/>
<line x1="367.2" y1="31.1" x2="367.2" y2="135" stroke="#000" stroke-width="1.15"/>
<path d="M344.1,94.2C345.52,93.68 348.77,92.07 352.6,91.1C356.43,90.13 362.73,89.05 367.1,88.4C371.47,87.75 375.18,87.43 378.8,87.2C382.42,86.97 385.68,86.8 388.8,87C391.92,87.2 394.88,88.07 397.5,88.4C400.12,88.73 402.35,89.13 404.5,89C406.65,88.87 408.65,88.28 410.4,87.6C412.15,86.92 412.77,86.07 415,84.9C417.23,83.73 420.87,82.05 423.8,80.6C426.73,79.15 429.68,77.23 432.6,76.2C435.52,75.17 438.38,74.7 441.3,74.4C444.22,74.1 447.47,74.1 450.1,74.4C452.73,74.7 454.62,75.4 457.1,76.2C459.58,77 463.68,78.7 465,79.2" fill="none" stroke="#56B4E9" stroke-width="1.4"/>
<path d="M344.1,95.4C345.52,94.53 348.77,91.95 352.6,90.2C356.43,88.45 362.73,86.37 367.1,84.9C371.47,83.43 374.95,82.35 378.8,81.4C382.65,80.45 385.82,79.78 390.2,79.2C394.58,78.62 400.97,78.55 405.1,77.9C409.23,77.25 410.42,76.17 415,75.3C419.58,74.43 426.75,73.43 432.6,72.7C438.45,71.97 444.27,71.35 450.1,70.9C455.93,70.45 461.92,70.08 467.6,70C473.28,69.92 481.43,70.33 484.2,70.4" fill="none" stroke="#CD3034" stroke-width="1.4" stroke-dasharray="5.5,5"/>
</g>
<rect x="337.5" y="31.1" width="153.6" height="103.9" fill="none" stroke="#333" stroke-width="1"/>
<rect x="337.5" y="4" width="153.6" height="27.1" fill="#D9D9D9" stroke="#333" stroke-width="1"/>
<text x="414.3" y="20" fill="#1A1A1A" text-anchor="middle"><tspan font-size="11.3">CWSI</tspan><tspan font-size="8" dy="1.7">Ta_in</tspan></text>
<line x1="333.3" y1="49.5" x2="337.5" y2="49.5" stroke="#333" stroke-width="1"/>
<text x="329.9" y="54.5" font-size="10.8" fill="#4D4D4D" text-anchor="end">6.4</text>
<line x1="333.3" y1="69.5" x2="337.5" y2="69.5" stroke="#333" stroke-width="1"/>
<text x="329.9" y="74.6" font-size="10.8" fill="#4D4D4D" text-anchor="end">6.0</text>
<line x1="333.3" y1="90.5" x2="337.5" y2="90.5" stroke="#333" stroke-width="1"/>
<text x="329.9" y="94.7" font-size="10.8" fill="#4D4D4D" text-anchor="end">5.6</text>
<line x1="333.3" y1="110.5" x2="337.5" y2="110.5" stroke="#333" stroke-width="1"/>
<text x="329.9" y="114.7" font-size="10.8" fill="#4D4D4D" text-anchor="end">5.2</text>
<line x1="333.3" y1="130.5" x2="337.5" y2="130.5" stroke="#333" stroke-width="1"/>
<text x="329.9" y="134.7" font-size="10.8" fill="#4D4D4D" text-anchor="end">4.8</text>
<line x1="367.2" y1="135" x2="367.2" y2="139" stroke="#333" stroke-width="1.2"/>
<text x="367.2" y="151.3" font-size="10.8" fill="#4D4D4D" text-anchor="middle">0</text>
<line x1="409.04" y1="135" x2="409.04" y2="139" stroke="#333" stroke-width="1.2"/>
<text x="409.04" y="151.3" font-size="10.8" fill="#4D4D4D" text-anchor="middle">20</text>
<line x1="450.88" y1="135" x2="450.88" y2="139" stroke="#333" stroke-width="1.2"/>
<text x="450.88" y="151.3" font-size="10.8" fill="#4D4D4D" text-anchor="middle">40</text>
<clipPath id="cB10"><rect x="529.5" y="31.1" width="153.1" height="103.9"/></clipPath>
<g clip-path="url(#cB10)">
<rect x="567.78" y="31.1" width="1.88" height="103.9" fill="#F2F2F2"/>
<rect x="574.05" y="31.1" width="6.07" height="103.9" fill="#F2F2F2"/>
<rect x="581.79" y="31.1" width="21.13" height="103.9" fill="#F2F2F2"/>
<rect x="607.32" y="31.1" width="1.88" height="103.9" fill="#F2F2F2"/>
<path d="M536.17,106.83L538.45,85.8L538.8,85.39L541.43,82.28L544.05,70.93L544.93,75.88L546.68,85.8L547.56,88.15L549.31,92.81L551.06,85.81L551.94,82.3L554.57,75.06L555.44,72.59L558.07,70.24L560.7,76.11L561.57,72.88L563.33,66.23L564.2,71.32L565.95,81.54L566.83,79.64L567.7,77.74L568.58,75.82L569.46,71.85L570.33,67.92L572.96,54.58L573.49,51.95L575.59,73.6L578.22,79.6L579.09,77.53L580.84,73.37L582.6,78.52L583.47,80.92L586.1,84.67L589.6,86.74L592.23,84.63L593.11,83.69L594.86,85.31L596.61,86.94L598.36,85.06L600.12,83.17L602.74,80.47L605.37,84.77L607.12,82.82L608.88,80.87L610.63,81.23L612.38,81.59L615.81,79.41L617.56,78.31L618.43,80.31L620.19,84.32L621.06,83.41L622.81,81.58L624.57,79.74L625.44,78.83L628.07,79.55L631.57,79.9L634.2,72.73L636.83,79.44L639.46,76.88L640.33,76.04L642.08,74.14L642.96,73.55L645.59,77.05L648.22,74.42L649.09,73.55L650.84,67L652.6,60.41L653.47,61.28L655.22,63.03L656.1,64.79L656.1,92.49L655.22,91.28L653.47,88.88L652.6,90.58L650.84,94L649.09,95.96L648.22,96.94L645.59,108.63L642.96,105.89L642.08,105.01L640.33,109.76L639.46,112.08L636.83,122.6L634.2,110.34L631.57,110.34L628.07,105.09L625.44,106.4L624.57,106.83L622.81,113.86L621.06,120.86L620.19,123.18L618.43,127.84L617.56,122.62L615.81,112.12L612.38,107.46L610.63,105.09L608.88,105.08L607.12,105.09L605.37,107.19L602.74,110.34L600.12,109.29L598.36,108.59L596.61,110.34L594.86,112.09L593.11,116.76L592.23,119.1L589.6,115.6L586.1,117.35L583.47,110.77L582.6,108.6L580.84,110.35L579.09,112.1L578.22,113.84L575.59,119.1L573.49,107.91L572.96,105.09L570.33,109.03L569.46,110.34L568.58,117.36L567.7,124.32L566.83,117.36L565.95,115L564.2,110.34L563.33,106.86L561.57,99.82L560.7,98.07L558.07,90.18L555.44,92.81L554.57,94.32L551.94,99.58L551.06,101.34L549.31,101.34L547.56,101.34L546.68,101.93L544.93,103.09L544.05,102.21L541.43,99.59L538.8,103.09L538.45,104.6L536.17,90.83Z" fill="#56B4E9" fill-opacity="0.26"/>
<path d="M536.17,99.83L538.45,78.8L538.8,78.39L541.43,75.28L544.05,63.93L544.93,68.88L546.68,78.8L547.56,81.15L549.31,85.81L551.06,78.81L551.94,75.3L554.57,68.06L555.44,65.67L558.07,63.04L560.7,67.41L561.57,63.64L563.33,56.06L564.2,60.7L565.95,70.03L566.83,67.71L567.7,65.39L568.58,63.04L569.46,58.64L570.33,54.29L572.96,39.68L573.49,36.8L575.59,57.79L578.22,63.03L579.09,60.71L580.84,56.04L582.6,60.71L583.47,63.03L586.1,66.54L589.6,68.29L592.23,66.32L593.11,65.67L594.86,67.86L596.61,70.04L598.36,68.74L600.12,67.42L602.74,65.67L605.37,70.92L607.12,69.61L608.88,68.3L610.63,69.17L612.38,70.05L615.81,68.89L617.56,68.3L618.43,70.62L620.19,75.3L621.06,74.72L622.81,73.55L624.57,72.38L625.44,71.8L628.07,73.55L631.57,75.3L634.2,69.17L636.83,77.05L639.46,75.74L640.33,75.3L642.08,74.23L642.96,74.05L645.59,78.76L648.22,77.31L649.09,76.83L650.84,71.07L652.6,65.57L653.47,66.98L655.22,69.82L656.1,72.13L657.85,68.29L659.6,67.71L660.48,67.42L663.11,71.8L665.74,70.05L666.61,71.79L668.36,75.29L669.77,63.91L669.77,101.58L668.36,103.14L666.61,105.08L665.74,103.34L663.11,98.08L660.48,96.76L659.6,96.33L657.85,98.08L656.1,99.83L655.22,98.07L653.47,94.58L652.6,95.74L650.84,98.08L649.09,99.25L648.22,99.83L645.59,110.34L642.96,106.4L642.08,105.1L640.33,109.03L639.46,110.94L636.83,120.22L634.2,106.78L631.57,105.73L628.07,99.09L625.44,99.37L624.57,99.48L622.81,105.84L621.06,112.17L620.19,114.16L618.43,118.15L617.56,112.61L615.81,101.59L612.38,95.91L610.63,93.03L608.88,92.51L607.12,91.88L605.37,93.34L602.74,95.54L600.12,93.53L598.36,92.26L596.61,93.45L594.86,94.64L593.11,98.74L592.23,100.8L589.6,97.15L586.1,99.22L583.47,92.88L582.6,90.79L580.84,93.02L579.09,95.28L578.22,97.27L575.59,103.28L573.49,92.76L572.96,90.19L570.33,95.41L569.46,97.13L568.58,104.58L567.7,111.96L566.83,105.42L565.95,103.49L564.2,99.71L563.33,96.68L561.57,90.58L560.7,90.17L558.07,90.8L555.44,100.71L554.57,103.32L551.94,108.58L551.06,110.34L549.31,110.34L547.56,110.34L546.68,110.93L544.93,112.09L544.05,111.21L541.43,108.59L538.8,112.09L538.45,113.6L536.17,99.83Z" fill="#CD3034" fill-opacity="0.29"/>
<line x1="559.2" y1="31.1" x2="559.2" y2="135" stroke="#000" stroke-width="1.15"/>
<path d="M536.2,100.2C537.5,99.4 541.52,96.78 544,95.4C546.48,94.02 548.6,92.92 551.1,91.9C553.6,90.88 556.67,89.78 559,89.3C561.33,88.82 562.63,88.75 565.1,89C567.57,89.25 570.9,90.05 573.8,90.8C576.7,91.55 579.58,92.55 582.5,93.5C585.42,94.45 588.38,95.73 591.3,96.5C594.22,97.27 597.08,97.78 600,98.1C602.92,98.42 605.87,98.4 608.8,98.4C611.73,98.4 614.68,98.5 617.6,98.1C620.52,97.7 623.38,96.93 626.3,96C629.22,95.07 632.18,94.05 635.1,92.5C638.02,90.95 641.18,88.55 643.8,86.7C646.42,84.85 648.6,83.23 650.8,81.4C653,79.57 655.97,76.65 657,75.7" fill="none" stroke="#56B4E9" stroke-width="1.4"/>
<path d="M536.2,105.1C537.5,103.63 541.52,99.08 544,96.3C546.48,93.52 548.6,90.88 551.1,88.4C553.6,85.92 556.67,83.15 559,81.4C561.33,79.65 562.63,78.88 565.1,77.9C567.57,76.92 570.9,75.87 573.8,75.5C576.7,75.13 579.58,75.3 582.5,75.7C585.42,76.1 588.38,76.8 591.3,77.9C594.22,79 597.08,80.98 600,82.3C602.92,83.62 605.87,84.83 608.8,85.8C611.73,86.77 614.68,87.52 617.6,88.1C620.52,88.68 623.38,89.1 626.3,89.3C629.22,89.5 632.18,89.58 635.1,89.3C638.02,89.02 640.88,88.33 643.8,87.6C646.72,86.87 649.67,85.78 652.6,84.9C655.53,84.02 658.18,83.37 661.4,82.3C664.62,81.23 670.15,79.13 671.9,78.5" fill="none" stroke="#CD3034" stroke-width="1.4" stroke-dasharray="5.5,5"/>
</g>
<rect x="529.5" y="31.1" width="153.1" height="103.9" fill="none" stroke="#333" stroke-width="1"/>
<rect x="529.5" y="4" width="153.1" height="27.1" fill="#D9D9D9" stroke="#333" stroke-width="1"/>
<text x="606.05" y="20" fill="#1A1A1A" text-anchor="middle"><tspan font-size="11.3">CSI</tspan><tspan font-size="8" dy="1.7">in</tspan></text>
<line x1="525.3" y1="44.5" x2="529.5" y2="44.5" stroke="#333" stroke-width="1"/>
<text x="521.9" y="48.8" font-size="10.8" fill="#4D4D4D" text-anchor="end">0.0</text>
<line x1="525.3" y1="72.5" x2="529.5" y2="72.5" stroke="#333" stroke-width="1"/>
<text x="521.9" y="77.4" font-size="10.8" fill="#4D4D4D" text-anchor="end">-0.5</text>
<line x1="525.3" y1="101.5" x2="529.5" y2="101.5" stroke="#333" stroke-width="1"/>
<text x="521.9" y="106.1" font-size="10.8" fill="#4D4D4D" text-anchor="end">-1.0</text>
<line x1="525.3" y1="130.5" x2="529.5" y2="130.5" stroke="#333" stroke-width="1"/>
<text x="521.9" y="134.7" font-size="10.8" fill="#4D4D4D" text-anchor="end">-1.5</text>
<line x1="559.2" y1="135" x2="559.2" y2="139" stroke="#333" stroke-width="1.2"/>
<text x="559.2" y="151.3" font-size="10.8" fill="#4D4D4D" text-anchor="middle">0</text>
<line x1="601.04" y1="135" x2="601.04" y2="139" stroke="#333" stroke-width="1.2"/>
<text x="601.04" y="151.3" font-size="10.8" fill="#4D4D4D" text-anchor="middle">20</text>
<line x1="642.88" y1="135" x2="642.88" y2="139" stroke="#333" stroke-width="1.2"/>
<text x="642.88" y="151.3" font-size="10.8" fill="#4D4D4D" text-anchor="middle">40</text>
<clipPath id="cB01"><rect x="337.5" y="188.3" width="153.6" height="104.05"/></clipPath>
<g clip-path="url(#cB01)">
<rect x="375.36" y="188.3" width="2.09" height="104.05" fill="#F2F2F2"/>
<rect x="381.84" y="188.3" width="4.18" height="104.05" fill="#F2F2F2"/>
<rect x="390" y="188.3" width="3.97" height="104.05" fill="#F2F2F2"/>
<rect x="396.07" y="188.3" width="2.09" height="104.05" fill="#F2F2F2"/>
<rect x="401.3" y="188.3" width="9.83" height="104.05" fill="#F2F2F2"/>
<path d="M344.44,243.97L346.35,236.03L349.52,232.86L352.7,236.03L355.87,232.86L359.05,234.44L362.22,229.68L365.4,225.71L367.78,227.3L370.16,229.68L373.33,226.51L375.71,232.86L378.1,229.68L380.48,227.3L382.06,228.1L384.44,233.65L387.62,236.03L390.79,237.62L393.97,239.21L397.14,237.62L400.32,237.62L403.49,237.62L406.67,238.41L409.84,239.21L413.02,237.62L414.92,237.62L416.35,229.68L419.52,232.06L422.7,231.27L425.87,229.68L429.05,232.86L432.22,232.06L435.4,230.48L438.57,231.27L441.75,229.68L444.92,228.1L448.1,227.3L450.48,225.71L452.86,221.75L456.03,219.37L458.41,219.37L460.79,220.95L463.17,224.92L465.08,228.1L465.08,243.97L462.38,247.14L460,242.38L457.62,243.97L456.03,247.14L452.86,248.73L450.48,250.32L448.1,251.9L446.19,259.84L444.6,280.48L443.33,259.84L440.95,255.08L438.57,256.67L436.19,259.84L433.81,255.08L431.43,259.84L429.05,272.54L426.67,266.19L424.29,258.25L421.9,259.84L419.52,269.37L417.14,261.43L414.92,274.13L411.43,275.71L408.25,274.13L405.87,278.89L403.49,272.54L401.11,275.71L398.73,285.24L396.35,278.89L393.97,264.6L391.59,259.84L389.21,269.37L386.83,266.19L384.44,255.08L382.06,264.6L379.68,256.67L377.3,266.19L375.71,288.41L374.13,269.37L372.54,256.67L370.16,261.43L367.78,250.32L365.4,248.73L362.22,250.32L359.05,253.49L355.87,255.08L352.7,253.49L349.52,250.32L346.35,250.32L344.44,253.49L344.44,243.97Z" fill="#56B4E9" fill-opacity="0.26"/>
<path d="M344.44,243.97L346.35,228.1L348.73,224.13L351.9,217.78L354.29,224.13L356.67,228.1L359.84,224.13L363.02,220.16L365.4,216.98L366.98,217.78L369.37,221.75L370.95,210.63L373.33,221.75L375.71,224.92L378.1,209.05L379.68,221.75L382.06,196.35L383.65,213.81L386.03,221.75L388.41,216.98L390.79,210.63L393.17,218.57L395.56,221.75L398.73,218.57L401.9,220.16L405.08,219.37L408.25,218.57L411.43,220.16L414.6,224.13L417.14,224.13L419.52,220.95L421.9,224.13L425.08,218.57L427.46,226.51L430.63,224.13L433.81,221.75L436.19,226.51L438.57,224.92L441.75,218.57L444.13,226.51L446.51,223.33L448.89,226.51L451.27,223.33L453.65,224.13L456.03,223.33L458.41,220.16L460.79,213.02L463.17,216.98L465.56,218.57L467.94,220.95L469.52,217.78L471.9,221.75L474.29,226.51L476.67,216.98L477.94,215.4L477.94,253.49L476.67,251.9L475.08,247.14L472.7,251.11L470.32,248.73L467.94,243.97L465.56,240.79L465.08,241.59L462.38,242.38L459.21,243.97L456.03,247.14L452.86,245.56L449.68,247.14L446.51,249.52L443.33,250.32L440.16,252.7L436.98,251.9L433.81,253.49L431.43,256.67L429.05,261.43L425.87,258.25L422.7,257.46L419.52,255.08L416.35,253.49L414.92,252.7L413.02,253.49L409.84,251.9L406.67,250.32L403.49,251.9L401.11,253.49L398.73,259.84L397.14,255.08L394.76,253.49L392.38,250.32L390,244.76L387.62,243.97L385.24,242.38L382.86,237.62L380.48,228.1L378.1,239.21L375.71,234.44L373.33,240.79L371.75,247.14L369.37,250.32L367.78,248.73L365.4,248.73L363.02,251.9L359.84,256.67L357.14,264.6L355.87,261.43L352.7,256.67L349.52,251.9L346.35,254.29L344.44,270.95Z" fill="#CD3034" fill-opacity="0.29"/>
<line x1="367.2" y1="188.3" x2="367.2" y2="292.35" stroke="#000" stroke-width="1.15"/>
<path d="M344.4,244.7C346.73,244.3 354.6,242.55 358.4,242.3C362.2,242.05 363.6,242.68 367.2,243.2C370.8,243.72 376.4,244.43 380,245.4C383.6,246.37 385.88,247.97 388.8,249C391.72,250.03 394.3,250.97 397.5,251.6C400.7,252.23 404.5,252.87 408,252.8C411.5,252.73 414.98,251.98 418.5,251.2C422.02,250.42 425.58,249.35 429.1,248.1C432.62,246.85 436.1,245.45 439.6,243.7C443.1,241.95 447.18,239.35 450.1,237.6C453.02,235.85 454.62,234.82 457.1,233.2C459.58,231.58 463.68,228.78 465,227.9" fill="none" stroke="#56B4E9" stroke-width="1.4"/>
<path d="M344.4,247.6C346.73,246.13 354.6,240.85 358.4,238.8C362.2,236.75 363.3,236.52 367.2,235.3C371.1,234.08 378.2,231.93 381.8,231.5C385.4,231.07 386.18,232.27 388.8,232.7C391.42,233.13 394.58,233.35 397.5,234.1C400.42,234.85 403.38,236.38 406.3,237.2C409.22,238.02 412.08,238.58 415,239C417.92,239.42 420.87,239.65 423.8,239.7C426.73,239.75 429.68,239.52 432.6,239.3C435.52,239.08 438.38,238.83 441.3,238.4C444.22,237.97 447.18,237.37 450.1,236.7C453.02,236.03 455.88,235.18 458.8,234.4C461.72,233.62 464.67,232.78 467.6,232C470.53,231.22 473.63,230.53 476.4,229.7C479.17,228.87 482.9,227.45 484.2,227" fill="none" stroke="#CD3034" stroke-width="1.4" stroke-dasharray="5.5,5"/>
</g>
<rect x="337.5" y="188.3" width="153.6" height="104.05" fill="none" stroke="#333" stroke-width="1"/>
<rect x="337.5" y="161.4" width="153.6" height="26.9" fill="#D9D9D9" stroke="#333" stroke-width="1"/>
<text x="414.3" y="178" fill="#1A1A1A" text-anchor="middle"><tspan font-size="11.3">CTD</tspan><tspan font-size="8" dy="1.7">in</tspan></text>
<line x1="333.3" y1="201.5" x2="337.5" y2="201.5" stroke="#333" stroke-width="1"/>
<text x="329.9" y="206.5" font-size="10.8" fill="#4D4D4D" text-anchor="end">0</text>
<line x1="333.3" y1="221.5" x2="337.5" y2="221.5" stroke="#333" stroke-width="1"/>
<text x="329.9" y="226.3" font-size="10.8" fill="#4D4D4D" text-anchor="end">-1</text>
<line x1="333.3" y1="241.5" x2="337.5" y2="241.5" stroke="#333" stroke-width="1"/>
<text x="329.9" y="246.1" font-size="10.8" fill="#4D4D4D" text-anchor="end">-2</text>
<line x1="333.3" y1="261.5" x2="337.5" y2="261.5" stroke="#333" stroke-width="1"/>
<text x="329.9" y="266" font-size="10.8" fill="#4D4D4D" text-anchor="end">-3</text>
<line x1="333.3" y1="281.5" x2="337.5" y2="281.5" stroke="#333" stroke-width="1"/>
<text x="329.9" y="285.8" font-size="10.8" fill="#4D4D4D" text-anchor="end">-4</text>
<line x1="367.2" y1="292.35" x2="367.2" y2="296.35" stroke="#333" stroke-width="1.2"/>
<text x="367.2" y="308.65" font-size="10.8" fill="#4D4D4D" text-anchor="middle">0</text>
<line x1="409.04" y1="292.35" x2="409.04" y2="296.35" stroke="#333" stroke-width="1.2"/>
<text x="409.04" y="308.65" font-size="10.8" fill="#4D4D4D" text-anchor="middle">20</text>
<line x1="450.88" y1="292.35" x2="450.88" y2="296.35" stroke="#333" stroke-width="1.2"/>
<text x="450.88" y="308.65" font-size="10.8" fill="#4D4D4D" text-anchor="middle">40</text>
<clipPath id="cB11"><rect x="529.5" y="188.3" width="153.1" height="104.05"/></clipPath>
<g clip-path="url(#cB11)">
<path d="M535.97,256.67L538.35,248.73L540.73,245.56L543.11,240.79L545.49,245.56L547.87,247.14L550.25,245.56L552.63,242.38L555.02,237.62L557.4,237.62L559.78,240.79L562.16,237.62L564.54,236.03L566.92,240.79L569.3,236.03L571.68,234.44L574.06,232.86L576.44,236.03L578.83,237.62L581.21,234.44L583.59,236.03L585.97,239.21L588.35,240.79L590.73,242.38L593.11,242.38L595.49,240.79L598.67,237.62L601.84,240.79L605.02,242.38L606.92,241.59L608.35,236.03L611.52,232.86L614.7,231.27L617.87,224.92L621.05,226.51L624.22,221.75L627.4,220.16L630.57,218.57L633.75,216.98L636.92,221.75L640.1,220.16L642.48,216.98L644.86,207.46L647.24,205.08L649.62,210.63L652,214.6L654.38,219.37L657.08,223.33L657.08,253.49L655.97,263.02L653.59,256.67L651.21,242.38L649.62,250.32L648.03,236.03L644.86,237.62L642.48,243.97L640.1,247.14L637.71,250.32L636.13,269.37L634.54,256.67L632.16,242.38L629.78,240.79L627.4,247.14L625.02,245.56L622.63,248.73L620.25,255.08L617.87,251.9L616.29,256.67L613.9,259.84L611.52,256.67L609.14,261.43L606.6,261.43L603.43,264.6L601.05,269.37L598.67,272.54L596.29,264.6L593.9,269.37L591.52,277.3L589.14,269.37L586.76,266.19L584.38,272.54L582.79,259.84L581.21,245.56L578.83,256.67L576.44,264.6L574.06,256.67L571.68,255.08L569.3,261.43L567.71,266.19L566.13,278.89L564.54,269.37L562.16,263.02L559.78,258.25L557.4,255.08L555.02,258.25L552.63,264.6L550.25,277.3L548.67,283.65L547.08,282.06L545.49,276.51L543.11,264.6L540.73,259.84L538.35,259.84L535.97,262.22L535.97,256.67Z" fill="#56B4E9" fill-opacity="0.26"/>
<path d="M535.97,253.49L536.76,245.56L538.35,240.79L540.73,237.62L543.11,231.27L544.38,228.1L546.29,237.62L547.87,242.38L550.25,239.21L552.63,236.03L555.02,232.86L556.6,228.89L558.19,229.68L559.78,231.27L562.16,228.1L563.75,223.33L566.13,234.44L568.51,228.1L570.1,220.16L571.68,231.27L573.59,221.75L575.65,217.78L578.03,216.19L579.62,221.75L582,204.29L583.59,213.81L585.17,228.1L587.56,229.68L589.94,226.51L592.32,223.33L594.7,226.51L597.08,231.27L599.46,220.16L601.84,226.51L604.22,234.44L606.6,232.86L609.14,229.68L611.52,226.51L613.11,215.4L615.49,213.81L617.87,200.32L619.78,204.29L621.84,215.4L624.22,212.22L626.6,198.73L628.98,202.7L631.37,209.05L633.75,197.14L636.13,207.46L638.51,218.57L640.89,216.98L643.27,220.16L645.65,212.22L647.24,213.81L649.62,213.81L652,214.6L654.38,218.57L657.08,221.75L659.14,216.98L661.52,210.63L663.9,226.51L666.29,223.33L667.87,194.76L669.46,199.52L669.94,234.44L669.94,234.44L667.87,232.86L665.49,236.03L663.9,244.76L661.52,242.38L659.14,237.62L657.08,236.03L655.97,237.62L652.79,239.21L649.62,237.62L646.44,236.03L643.27,239.21L640.1,243.97L636.92,247.14L633.75,240.79L630.57,237.62L627.4,242.38L624.22,240.79L621.05,245.56L617.87,250.32L614.7,250.32L611.52,256.67L608.35,253.49L606.92,257.46L605.02,256.67L601.84,258.25L598.67,256.67L595.49,259.84L593.11,264.6L590.73,266.19L588.35,263.02L585.97,256.67L583.59,253.49L581.21,253.49L578.83,250.32L576.44,253.49L574.06,251.9L571.68,255.08L569.3,253.49L566.92,259.84L564.54,255.08L562.16,258.25L559.78,256.67L557.4,253.49L555.02,259.84L552.63,266.19L550.73,278.89L549.14,286.83L547.87,283.65L545.49,272.54L543.11,261.43L540.73,256.67L538.35,258.25L535.97,261.43L535.97,253.49Z" fill="#CD3034" fill-opacity="0.29"/>
<line x1="559.2" y1="188.3" x2="559.2" y2="292.35" stroke="#000" stroke-width="1.15"/>
<path d="M536.2,253.9C537.5,253.65 540.2,252.93 544,252.4C547.8,251.87 554.03,251.05 559,250.7C563.97,250.35 569.87,250.3 573.8,250.3C577.73,250.3 579.32,250.42 582.6,250.7C585.88,250.98 590.02,252.43 593.5,252C596.98,251.57 600.07,250.07 603.5,248.1C606.93,246.13 610.58,242.68 614.1,240.2C617.62,237.72 621.1,234.82 624.6,233.2C628.1,231.58 631.9,231 635.1,230.5C638.3,230 640.3,229.9 643.8,230.2C647.3,230.5 654.05,231.95 656.1,232.3" fill="none" stroke="#56B4E9" stroke-width="1.4"/>
<path d="M536.2,255.4C538.1,254.53 543.8,251.77 547.6,250.2C551.4,248.63 554.63,247.28 559,246C563.37,244.72 569.88,243.27 573.8,242.5C577.72,241.73 579.57,241.78 582.5,241.4C585.43,241.02 588.48,240.52 591.4,240.2C594.32,239.88 597.23,239.95 600,239.5C602.77,239.05 605.07,238.55 608,237.5C610.93,236.45 613.08,234.95 617.6,233.2C622.12,231.45 629.27,228.37 635.1,227C640.93,225.63 647.05,225.37 652.6,225C658.15,224.63 664.6,224.75 668.4,224.8C672.2,224.85 674.23,225.22 675.4,225.3" fill="none" stroke="#CD3034" stroke-width="1.4" stroke-dasharray="5.5,5"/>
</g>
<rect x="529.5" y="188.3" width="153.1" height="104.05" fill="none" stroke="#333" stroke-width="1"/>
<rect x="529.5" y="161.4" width="153.1" height="26.9" fill="#D9D9D9" stroke="#333" stroke-width="1"/>
<text x="606.05" y="178" fill="#1A1A1A" text-anchor="middle"><tspan font-size="11.3">CWSI</tspan><tspan font-size="8" dy="1.7">dev_in</tspan></text>
<line x1="525.3" y1="287.5" x2="529.5" y2="287.5" stroke="#333" stroke-width="1"/>
<text x="521.9" y="291.8" font-size="10.8" fill="#4D4D4D" text-anchor="end">5.0</text>
<line x1="525.3" y1="259.5" x2="529.5" y2="259.5" stroke="#333" stroke-width="1"/>
<text x="521.9" y="263.7" font-size="10.8" fill="#4D4D4D" text-anchor="end">5.5</text>
<line x1="525.3" y1="230.5" x2="529.5" y2="230.5" stroke="#333" stroke-width="1"/>
<text x="521.9" y="235.5" font-size="10.8" fill="#4D4D4D" text-anchor="end">6.0</text>
<line x1="525.3" y1="202.5" x2="529.5" y2="202.5" stroke="#333" stroke-width="1"/>
<text x="521.9" y="207.3" font-size="10.8" fill="#4D4D4D" text-anchor="end">6.5</text>
<line x1="559.2" y1="292.35" x2="559.2" y2="296.35" stroke="#333" stroke-width="1.2"/>
<text x="559.2" y="308.65" font-size="10.8" fill="#4D4D4D" text-anchor="middle">0</text>
<line x1="601.04" y1="292.35" x2="601.04" y2="296.35" stroke="#333" stroke-width="1.2"/>
<text x="601.04" y="308.65" font-size="10.8" fill="#4D4D4D" text-anchor="middle">20</text>
<line x1="642.88" y1="292.35" x2="642.88" y2="296.35" stroke="#333" stroke-width="1.2"/>
<text x="642.88" y="308.65" font-size="10.8" fill="#4D4D4D" text-anchor="middle">40</text>
<clipPath id="cB02"><rect x="337.5" y="345.2" width="153.6" height="104.2"/></clipPath>
<g clip-path="url(#cB02)">
<rect x="358.83" y="345.2" width="1.67" height="104.2" fill="#F2F2F2"/>
<rect x="384.35" y="345.2" width="1.88" height="104.2" fill="#F2F2F2"/>
<rect x="390.21" y="345.2" width="3.77" height="104.2" fill="#F2F2F2"/>
<rect x="396.49" y="345.2" width="2.09" height="104.2" fill="#F2F2F2"/>
<rect x="405.27" y="345.2" width="5.44" height="104.2" fill="#F2F2F2"/>
<rect x="413.22" y="345.2" width="4.18" height="104.2" fill="#F2F2F2"/>
<path d="M344.15,384.67L347.3,382.05L350.81,375.02L352.56,366.29L354.31,375.04L356.06,378.54L356.94,380.29L358.69,376.79L360.44,373.29L362.19,370.66L363.95,368.46L364.82,368.15L366.57,367.52L367.1,368.03L369.2,369.74L370.08,369.65L372.7,369.38L373.58,369.28L376.21,369.06L378.84,366.08L381.46,355.27L382.34,359.37L383.22,363.5L385.84,367.52L387.6,366.12L389.35,364.15L390.22,363.4L391.98,367.57L392.85,369.54L394.6,374.69L395.48,377.28L397.23,375.34L398.11,374.37L399.86,373.91L400.74,373.68L402.49,373.8L404.24,373.76L405.12,373.65L407.74,373.19L408.62,373.24L410.37,373.34L412.12,372.86L413.88,372.35L414.75,371.88L417.38,370.67L420.29,369.26L422.92,368.77L425.55,373.55L427.3,371.49L429.05,369.42L429.93,368.16L432.56,364.41L435.19,368.53L437.81,370.02L438.69,369.5L441.32,367.94L443.95,370.34L444.82,370.85L446.57,371.87L447.45,371.21L449.2,369.89L450.08,370.4L451.83,371.57L452.7,371.79L455.33,372.45L458.84,372.45L461.46,373.11L462.34,373.33L464.09,374.5L464.97,375.05L464.97,393.72L464.09,396.05L462.34,391.39L461.46,389.06L458.84,390.8L455.33,392.56L452.7,396.06L451.83,394.9L450.08,392.56L449.2,391.97L447.45,390.81L446.57,389.63L444.82,387.3L443.95,386L441.32,382.05L438.69,383.8L437.81,383.14L435.19,381.17L432.56,382.05L429.93,383.8L429.05,386.14L427.3,390.82L425.55,398.69L422.92,382.05L420.29,382.88L417.38,383.8L414.75,389.93L413.88,388.48L412.12,385.55L410.37,383.8L408.62,382.05L407.74,381.61L405.12,380.3L404.24,380.88L402.49,382.04L400.74,383.21L399.86,383.8L398.11,386.13L397.23,387.3L395.48,384.97L394.6,383.79L392.85,379.71L391.98,377.68L390.22,378.25L389.35,378.54L387.6,378.54L385.84,378.54L383.22,377.89L382.34,377.67L381.46,378.55L378.84,381.17L376.21,384.67L373.58,382.05L372.7,381.61L370.08,380.3L369.2,381.33L367.1,383.8L366.57,386.65L364.82,396.07L363.95,400.71L362.19,406.71L360.44,405.44L358.69,411.36L356.94,408.01L356.06,409.59L354.31,410.72L352.56,403.94L350.81,397.18L347.3,401.14L344.15,400.87Z" fill="#56B4E9" fill-opacity="0.26"/>
<path d="M344.15,391.25L347.3,387.48L350.81,379.17L352.56,369.8L354.31,377.9L356.06,379.97L356.94,380.96L358.69,376.79L360.44,373.49L362.19,370.76L363.95,368.03L364.82,367.45L366.57,366.28L367.1,366.63L369.2,368.03L370.08,367.81L372.7,367.16L373.58,366.94L376.21,366.28L378.84,362.76L381.46,351.41L382.34,355.33L383.22,359.28L385.84,362.77L387.6,361.02L389.35,358.68L390.22,357.52L391.98,361.03L392.85,362.77L394.6,367.44L395.48,369.78L397.23,367.45L398.11,366.28L399.86,365.69L400.74,365.4L402.49,365.4L404.24,365.4L405.12,365.4L407.74,365.4L408.62,365.7L410.37,366.28L412.12,366.28L413.88,366.28L414.75,366.06L417.38,365.4L420.29,364.53L422.92,364.53L425.55,369.78L427.3,368.03L429.05,366.28L429.93,365.18L432.56,361.9L435.19,366.28L437.81,368.03L438.69,367.59L441.32,366.28L443.95,368.91L444.82,369.49L446.57,370.66L447.45,370.07L449.2,368.91L450.08,369.49L451.83,370.66L452.7,370.88L455.33,371.53L458.84,371.54L461.46,372.19L462.34,372.41L464.09,373.58L464.97,374.16L466.72,372.85L468.47,371.54L469.35,369.78L471.1,366.28L471.98,365.4L473.73,363.65L474.6,364.23L476.36,365.43L477.23,370.65L477.23,372.41L476.36,372.99L474.6,374.17L473.73,376.2L471.98,380.29L471.1,382.05L469.35,385.55L468.47,386.72L466.72,389.06L464.97,392.83L464.09,395.14L462.34,390.47L461.46,388.14L458.84,389.89L455.33,391.65L452.7,395.14L451.83,393.98L450.08,391.65L449.2,390.99L447.45,389.67L446.57,388.43L444.82,385.94L443.95,384.56L441.32,380.4L438.69,381.89L437.81,381.14L435.19,378.92L432.56,379.54L429.93,380.82L429.05,383.01L427.3,387.36L425.55,394.92L422.92,377.8L420.29,378.15L417.38,378.53L414.75,384.11L413.88,382.41L412.12,378.96L410.37,376.73L408.62,374.5L407.74,373.82L405.12,372.05L404.24,372.53L402.49,373.65L400.74,374.94L399.86,375.58L398.11,378.04L397.23,379.41L395.48,377.47L394.6,376.54L392.85,372.93L391.98,371.14L390.22,372.38L389.35,373.08L387.6,373.44L385.84,373.79L383.22,373.67L382.34,373.63L381.46,374.69L378.84,377.84L376.21,381.89L373.58,379.7L372.7,379.39L370.08,378.46L369.2,379.62L367.1,382.4L366.57,385.41L364.82,395.37L363.95,400.27L362.19,410.11L360.44,427.61L358.69,443.36L356.94,429.37L356.06,422.33L354.31,413.58L352.56,407.46L350.81,401.33L347.3,406.57L344.15,407.45Z" fill="#CD3034" fill-opacity="0.29"/>
<line x1="367.2" y1="345.2" x2="367.2" y2="449.4" stroke="#000" stroke-width="1.15"/>
<path d="M344.1,394.7C345.52,393.77 350.02,390.92 352.6,389.1C355.18,387.28 357.18,385.57 359.6,383.8C362.02,382.03 364.48,379.97 367.1,378.5C369.72,377.03 372.47,375.87 375.3,375C378.13,374.13 381.77,373.58 384.1,373.3C386.43,373.02 387.4,373.02 389.3,373.3C391.2,373.58 393.15,374.42 395.5,375C397.85,375.58 400.63,376.45 403.4,376.8C406.17,377.15 408.7,377.02 412.1,377.1C415.5,377.18 418.93,377.2 423.8,377.3C428.67,377.4 434.58,377.5 441.3,377.7C448.02,377.9 460.3,378.37 464.1,378.5" fill="none" stroke="#56B4E9" stroke-width="1.4"/>
<path d="M344.1,401.3C345.52,399.85 350.02,395.37 352.6,392.6C355.18,389.83 357.18,387.28 359.6,384.7C362.02,382.12 364.48,379.15 367.1,377.1C369.72,375.05 372.47,373.77 375.3,372.4C378.13,371.03 381.47,369.72 384.1,368.9C386.73,368.08 388.77,367.73 391.1,367.5C393.43,367.27 395.47,367.27 398.1,367.5C400.73,367.73 404.03,368.23 406.9,368.9C409.77,369.57 411.02,370.48 415.3,371.5C419.58,372.52 426.8,374.07 432.6,375C438.4,375.93 444.27,376.65 450.1,377.1C455.93,377.55 462.63,377.67 467.6,377.7C472.57,377.73 477.85,377.37 479.9,377.3" fill="none" stroke="#CD3034" stroke-width="1.4" stroke-dasharray="5.5,5"/>
</g>
<rect x="337.5" y="345.2" width="153.6" height="104.2" fill="none" stroke="#333" stroke-width="1"/>
<rect x="337.5" y="318.6" width="153.6" height="26.6" fill="#D9D9D9" stroke="#333" stroke-width="1"/>
<text x="414.3" y="334.7" fill="#1A1A1A" text-anchor="middle"><tspan font-size="11.3">ICWSI</tspan><tspan font-size="8" dy="1.7">in</tspan></text>
<line x1="333.3" y1="348.5" x2="337.5" y2="348.5" stroke="#333" stroke-width="1"/>
<text x="329.9" y="353.5" font-size="10.8" fill="#4D4D4D" text-anchor="end">0.5</text>
<line x1="333.3" y1="370.5" x2="337.5" y2="370.5" stroke="#333" stroke-width="1"/>
<text x="329.9" y="375.1" font-size="10.8" fill="#4D4D4D" text-anchor="end">0.0</text>
<line x1="333.3" y1="392.5" x2="337.5" y2="392.5" stroke="#333" stroke-width="1"/>
<text x="329.9" y="396.7" font-size="10.8" fill="#4D4D4D" text-anchor="end">-0.5</text>
<line x1="333.3" y1="413.5" x2="337.5" y2="413.5" stroke="#333" stroke-width="1"/>
<text x="329.9" y="418.4" font-size="10.8" fill="#4D4D4D" text-anchor="end">-1.0</text>
<line x1="333.3" y1="435.5" x2="337.5" y2="435.5" stroke="#333" stroke-width="1"/>
<text x="329.9" y="440.1" font-size="10.8" fill="#4D4D4D" text-anchor="end">-1.5</text>
<line x1="367.2" y1="449.4" x2="367.2" y2="453.4" stroke="#333" stroke-width="1.2"/>
<text x="367.2" y="465.7" font-size="10.8" fill="#4D4D4D" text-anchor="middle">0</text>
<line x1="409.04" y1="449.4" x2="409.04" y2="453.4" stroke="#333" stroke-width="1.2"/>
<text x="409.04" y="465.7" font-size="10.8" fill="#4D4D4D" text-anchor="middle">20</text>
<line x1="450.88" y1="449.4" x2="450.88" y2="453.4" stroke="#333" stroke-width="1.2"/>
<text x="450.88" y="465.7" font-size="10.8" fill="#4D4D4D" text-anchor="middle">40</text>
<clipPath id="cB12"><rect x="529.5" y="345.2" width="153.1" height="104.2"/></clipPath>
<g clip-path="url(#cB12)">
<rect x="588.28" y="345.2" width="2.09" height="104.2" fill="#F2F2F2"/>
<path d="M535.49,410.49L537.56,402.56L539.94,399.38L542.32,394.62L544.7,393.03L547.08,399.38L549.46,400.97L551.84,399.38L554.22,394.62L556.6,388.27L558.19,385.1L558.98,375.57L561.37,385.1L563.75,377.16L566.13,393.03L567.71,383.51L569.3,377.16L570.89,391.44L573.27,397.79L575.65,385.1L578.03,370.81L579.62,373.98L581.21,377.16L583.59,373.98L586.76,370.81L589.14,366.05L590.41,356.52L592.32,367.63L594.7,378.75L597.08,381.92L598.67,372.4L601.05,366.05L603.43,364.46L606.6,366.05L609.14,373.98L611.52,375.57L613.9,369.22L616.29,362.87L617.87,358.11L619.46,370.81L621.84,364.46L624.22,362.87L625.81,362.87L628.19,366.05L630.57,367.63L632.95,369.22L635.33,364.46L637.71,359.7L639.3,356.52L641.68,361.29L644.06,359.7L646.44,362.87L648.83,364.46L651.21,362.87L653.59,369.22L657.08,370.81L657.08,413.67L655.17,420.02L653.59,431.13L652,423.19L649.62,421.6L647.24,410.49L644.86,413.67L642.48,410.49L640.1,407.32L637.71,405.73L635.33,410.49L633.75,420.02L632.16,399.38L630.57,394.62L628.19,397.79L625.81,407.32L623.43,397.79L621.05,394.62L618.67,399.38L616.29,397.79L613.9,400.97L611.52,407.32L609.14,412.08L606.6,406.52L605.02,404.14L602.63,400.97L600.25,402.56L597.87,407.32L595.49,405.73L593.11,402.56L590.73,404.14L588.35,407.32L585.97,404.14L583.59,399.38L581.21,397.79L578.83,399.38L576.44,404.14L574.06,413.67L572.48,423.19L570.1,413.67L567.71,412.08L566.13,423.19L564.54,421.6L562.16,415.25L559.78,405.73L557.4,410.49L555.81,416.84L553.43,426.37L551.05,429.54L548.67,432.71L546.29,434.3L543.9,429.54L541.52,420.02L539.14,415.25L536.76,413.67L535.49,410.49Z" fill="#56B4E9" fill-opacity="0.26"/>
<path d="M535.49,351.76L536.76,369.22L539.14,370.81L541.52,372.4L543.11,381.92L545.49,388.27L547.87,391.44L550.25,397.79L551.84,399.38L554.22,389.86L555.81,383.51L557.4,388.27L558.98,378.75L561.37,386.68L563.75,386.68L566.13,394.62L568.51,388.27L570.89,396.21L573.27,399.38L575.65,388.27L578.03,369.22L580.41,378.75L582.79,380.33L585.17,377.16L587.56,375.57L589.94,378.75L592.32,372.4L594.7,381.92L597.08,383.51L599.46,377.16L601.84,370.81L604.22,369.22L606.6,373.98L608.35,372.4L611.52,375.57L613.9,370.81L616.29,364.46L619.46,369.22L621.84,356.52L624.22,359.7L625.81,362.08L628.19,353.35L630.57,361.29L632.95,366.05L635.33,362.08L637.71,358.11L640.1,359.7L642.48,358.11L644.86,356.52L647.24,358.11L649.62,356.52L652,362.87L654.38,370.81L655.97,354.14L658.35,362.87L660.73,369.22L663.11,380.33L665.49,386.68L667.87,385.1L669.94,383.51L669.94,432.71L667.87,420.02L666.29,421.6L663.9,415.25L661.52,408.9L659.14,405.73L657.08,413.67L655.17,421.6L653.59,432.71L652,426.37L649.62,416.84L647.24,410.49L644.86,416.84L642.48,413.67L640.1,410.49L637.71,407.32L635.33,412.08L632.95,394.62L630.57,397.79L628.19,404.14L625.81,412.08L623.43,407.32L621.05,397.79L618.67,404.14L616.29,396.21L613.9,399.38L611.52,405.73L609.14,410.49L606.6,409.7L605.02,407.32L602.63,404.14L600.25,407.32L597.87,415.25L595.49,413.67L593.11,405.73L590.73,410.49L588.35,416.84L585.97,410.49L583.59,404.14L581.21,400.97L578.83,404.14L576.44,407.32L574.06,420.02L572.48,429.54L570.1,418.43L567.71,413.67L566.13,426.37L564.54,424.78L562.16,416.84L559.78,407.32L557.4,413.67L555.81,421.6L553.43,435.89L551.05,440.65L548.67,435.89L546.29,429.54L543.9,423.19L541.52,415.25L539.14,407.32L536.76,410.49L535.49,443.83L535.49,351.76Z" fill="#CD3034" fill-opacity="0.29"/>
<line x1="559.2" y1="345.2" x2="559.2" y2="449.4" stroke="#000" stroke-width="1.15"/>
<path d="M536.2,406.6C538.1,406.17 543.8,405.17 547.6,404C551.4,402.83 555.5,401.07 559,399.6C562.5,398.13 565.25,396.77 568.6,395.2C571.95,393.63 575.88,391.37 579.1,390.2C582.32,389.03 584.42,388.83 587.9,388.2C591.38,387.57 595.05,387.13 600,386.4C604.95,385.67 612.92,384.47 617.6,383.8C622.28,383.13 624.6,382.25 628.1,382.4C631.6,382.55 635.4,383.73 638.6,384.7C641.8,385.67 644.23,386.88 647.3,388.2C650.37,389.52 655.38,391.87 657,392.6" fill="none" stroke="#56B4E9" stroke-width="1.4"/>
<path d="M536.2,400.4C538.1,400.9 543.8,402.72 547.6,403.4C551.4,404.08 555.22,404.62 559,404.5C562.78,404.38 566.37,403.67 570.3,402.7C574.23,401.73 578.8,400.1 582.6,398.7C586.4,397.3 589.3,395.77 593.1,394.3C596.9,392.83 601.32,391.42 605.4,389.9C609.48,388.38 613.23,386.28 617.6,385.2C621.97,384.12 627.23,383.28 631.6,383.4C635.97,383.52 639.72,384.67 643.8,385.9C647.88,387.13 652.3,388.82 656.1,390.8C659.9,392.78 663.53,395.4 666.6,397.8C669.67,400.2 673.18,403.97 674.5,405.2" fill="none" stroke="#CD3034" stroke-width="1.4" stroke-dasharray="5.5,5"/>
</g>
<rect x="529.5" y="345.2" width="153.1" height="104.2" fill="none" stroke="#333" stroke-width="1"/>
<rect x="529.5" y="318.6" width="153.1" height="26.6" fill="#D9D9D9" stroke="#333" stroke-width="1"/>
<text x="606.05" y="334.7" fill="#1A1A1A" text-anchor="middle"><tspan font-size="11.3">T</tspan><tspan font-size="8" dy="1.7">BS</tspan><tspan font-size="11.3" dy="-1.7">-T</tspan><tspan font-size="8" dy="1.7">p</tspan></text>
<line x1="525.3" y1="438.5" x2="529.5" y2="438.5" stroke="#333" stroke-width="1"/>
<text x="521.9" y="443.3" font-size="10.8" fill="#4D4D4D" text-anchor="end">0</text>
<line x1="525.3" y1="416.5" x2="529.5" y2="416.5" stroke="#333" stroke-width="1"/>
<text x="521.9" y="420.9" font-size="10.8" fill="#4D4D4D" text-anchor="end">2</text>
<line x1="525.3" y1="393.5" x2="529.5" y2="393.5" stroke="#333" stroke-width="1"/>
<text x="521.9" y="398.5" font-size="10.8" fill="#4D4D4D" text-anchor="end">4</text>
<line x1="525.3" y1="371.5" x2="529.5" y2="371.5" stroke="#333" stroke-width="1"/>
<text x="521.9" y="376" font-size="10.8" fill="#4D4D4D" text-anchor="end">6</text>
<line x1="525.3" y1="348.5" x2="529.5" y2="348.5" stroke="#333" stroke-width="1"/>
<text x="521.9" y="353.6" font-size="10.8" fill="#4D4D4D" text-anchor="end">8</text>
<line x1="559.2" y1="449.4" x2="559.2" y2="453.4" stroke="#333" stroke-width="1.2"/>
<text x="559.2" y="465.7" font-size="10.8" fill="#4D4D4D" text-anchor="middle">0</text>
<line x1="601.04" y1="449.4" x2="601.04" y2="453.4" stroke="#333" stroke-width="1.2"/>
<text x="601.04" y="465.7" font-size="10.8" fill="#4D4D4D" text-anchor="middle">20</text>
<line x1="642.88" y1="449.4" x2="642.88" y2="453.4" stroke="#333" stroke-width="1.2"/>
<text x="642.88" y="465.7" font-size="10.8" fill="#4D4D4D" text-anchor="middle">40</text>
<clipPath id="cB03"><rect x="337.5" y="502.5" width="153.6" height="103.9"/></clipPath>
<g clip-path="url(#cB03)">
<rect x="375.36" y="502.5" width="2.72" height="103.9" fill="#F2F2F2"/>
<rect x="381.43" y="502.5" width="4.39" height="103.9" fill="#F2F2F2"/>
<rect x="390.21" y="502.5" width="3.56" height="103.9" fill="#F2F2F2"/>
<rect x="397.12" y="502.5" width="1.88" height="103.9" fill="#F2F2F2"/>
<rect x="400.67" y="502.5" width="10.46" height="103.9" fill="#F2F2F2"/>
<path d="M344.44,556.38L347.14,553.21L349.52,551.62L351.11,556.38L353.49,551.62L355.87,552.41L358.25,548.44L360.63,553.21L363.81,558.76L366.19,561.46L368.57,554.79L370.95,553.21L373.33,535.75L375.24,510.35L377.3,535.75L379.68,524.63L382.06,540.51L384.44,550.03L386.83,556.38L389.21,543.68L391.59,535.75L393.97,546.86L396.35,529.4L398.73,543.68L401.11,526.22L403.49,534.16L406.67,532.57L409.84,535.75L413.02,540.51L414.92,543.68L417.14,551.62L419.52,538.13L421.9,548.44L424.29,545.27L426.67,545.27L429.05,543.68L431.43,551.62L433.81,556.38L436.19,551.62L438.57,553.21L440.95,554.79L442.54,545.27L444.6,536.54L446.51,554.79L448.89,561.14L451.27,565.9L453.65,567.49L456.03,565.9L458.41,562.73L460.79,570.67L463.17,566.7L465.08,570.67L465.08,594.48L463.17,597.65L460.79,600.83L457.62,596.86L454.44,593.68L451.27,590.51L448.1,586.54L444.92,583.37L441.75,584.95L438.57,583.37L435.4,584.95L432.22,583.37L429.05,578.6L425.87,581.78L422.7,580.19L419.52,583.37L416.35,578.6L414.92,573.05L413.02,573.84L409.84,577.02L406.67,573.84L403.49,575.43L400.32,572.25L397.14,575.43L394.76,577.02L392.38,572.25L390,580.19L387.62,573.84L384.44,578.6L382.06,581.78L379.68,577.02L376.51,578.6L374.13,583.37L371.75,573.84L368.57,580.19L366.19,578.6L363.81,580.19L360.63,578.6L357.46,581.78L355.08,577.02L352.7,578.6L349.52,580.19L347.14,577.02L344.44,570.67L344.44,556.38Z" fill="#56B4E9" fill-opacity="0.26"/>
<path d="M344.44,542.1L346.35,551.62L348.73,553.21L351.11,557.17L353.49,550.03L355.87,551.62L358.25,545.27L360.63,551.62L363.81,557.97L366.19,561.14L368.57,559.56L371.75,559.56L374.92,559.56L378.1,564.32L381.27,557.97L384.44,556.38L387.62,556.38L390.79,561.14L393.97,556.38L397.14,554.79L400.32,556.38L403.49,557.97L406.67,558.76L409.84,557.97L413.02,557.97L414.92,558.29L416.35,557.97L419.52,556.38L422.7,556.38L425.87,554.79L428.25,552.41L430.63,553.21L433.02,559.56L435.4,556.38L437.78,559.56L440.16,561.14L442.54,559.56L444.92,561.14L448.1,564.32L451.27,569.08L454.44,572.25L457.62,573.84L460.79,575.43L463.97,573.84L465.56,570.67L467.94,573.84L469.52,569.08L471.9,570.67L475.08,572.25L477.46,567.49L477.94,569.08L477.94,592.1L475.87,592.89L474.29,589.71L471.9,591.3L469.52,592.89L467.14,594.48L465.08,594.48L463.17,593.68L460.79,592.89L458.41,591.3L456.03,590.51L452.86,589.71L449.68,590.51L446.51,592.89L444.13,589.71L441.75,596.06L438.57,586.54L436.19,589.71L433.81,592.89L431.43,589.71L429.05,581.78L426.67,586.54L424.29,589.71L421.9,588.13L419.52,591.3L417.14,586.54L414.92,587.33L413.81,588.13L410.63,586.54L407.46,589.71L405.08,584.95L402.7,592.89L400.32,586.54L397.94,597.65L395.56,589.71L393.17,594.48L390.79,599.24L388.41,583.37L386.03,594.48L383.65,588.13L381.27,592.89L378.89,581.78L377.3,589.71L375.71,597.65L373.33,586.54L370.95,596.06L368.57,591.3L366.19,584.95L364.6,592.89L362.22,590.51L359.84,592.89L357.46,592.1L355.87,583.37L353.49,592.89L351.11,590.51L348.73,589.71L346.35,586.54L344.44,578.6L344.44,542.1Z" fill="#CD3034" fill-opacity="0.29"/>
<line x1="367.2" y1="502.5" x2="367.2" y2="606.4" stroke="#000" stroke-width="1.15"/>
<path d="M344.1,567.2C345.52,566.9 348.77,566.07 352.6,565.4C356.43,564.73 362.73,564.07 367.1,563.2C371.47,562.33 375.38,561.08 378.8,560.2C382.22,559.32 384.48,558.33 387.6,557.9C390.72,557.47 394.38,557.52 397.5,557.6C400.62,557.68 403.38,557.82 406.3,558.4C409.22,558.98 412.08,560.13 415,561.1C417.92,562.07 420.87,563.03 423.8,564.2C426.73,565.37 429.68,566.72 432.6,568.1C435.52,569.48 438.38,570.9 441.3,572.5C444.22,574.1 447.47,575.95 450.1,577.7C452.73,579.45 454.62,581.3 457.1,583C459.58,584.7 463.68,587.08 465,587.9" fill="none" stroke="#56B4E9" stroke-width="1.4"/>
<path d="M344.1,565.4C345.52,566.13 348.77,568.42 352.6,569.8C356.43,571.18 362.73,572.67 367.1,573.7C371.47,574.73 374.8,575.48 378.8,576C382.8,576.52 386.72,576.8 391.1,576.8C395.48,576.8 401.12,576.35 405.1,576C409.08,575.65 410.42,574.93 415,574.7C419.58,574.47 426.75,574.1 432.6,574.6C438.45,575.1 445.73,576.6 450.1,577.7C454.47,578.8 455.88,580.18 458.8,581.2C461.72,582.22 464.67,582.92 467.6,583.8C470.53,584.68 473.63,585.62 476.4,586.5C479.17,587.38 482.9,588.67 484.2,589.1" fill="none" stroke="#CD3034" stroke-width="1.4" stroke-dasharray="5.5,5"/>
</g>
<rect x="337.5" y="502.5" width="153.6" height="103.9" fill="none" stroke="#333" stroke-width="1"/>
<rect x="337.5" y="475.6" width="153.6" height="26.9" fill="#D9D9D9" stroke="#333" stroke-width="1"/>
<text x="414.3" y="491.8" fill="#1A1A1A" text-anchor="middle"><tspan font-size="11.3">T</tspan><tspan font-size="8" dy="1.7">dry</tspan><tspan font-size="11.3" dy="-1.7">-T</tspan><tspan font-size="8" dy="1.7">p</tspan></text>
<line x1="333.3" y1="602.5" x2="337.5" y2="602.5" stroke="#333" stroke-width="1"/>
<text x="329.9" y="607.5" font-size="10.8" fill="#4D4D4D" text-anchor="end">0</text>
<line x1="333.3" y1="580.5" x2="337.5" y2="580.5" stroke="#333" stroke-width="1"/>
<text x="329.9" y="585.4" font-size="10.8" fill="#4D4D4D" text-anchor="end">1</text>
<line x1="333.3" y1="558.5" x2="337.5" y2="558.5" stroke="#333" stroke-width="1"/>
<text x="329.9" y="563.3" font-size="10.8" fill="#4D4D4D" text-anchor="end">2</text>
<line x1="333.3" y1="536.5" x2="337.5" y2="536.5" stroke="#333" stroke-width="1"/>
<text x="329.9" y="541.3" font-size="10.8" fill="#4D4D4D" text-anchor="end">3</text>
<line x1="333.3" y1="514.5" x2="337.5" y2="514.5" stroke="#333" stroke-width="1"/>
<text x="329.9" y="519.2" font-size="10.8" fill="#4D4D4D" text-anchor="end">4</text>
<line x1="367.2" y1="606.4" x2="367.2" y2="610.4" stroke="#333" stroke-width="1.2"/>
<text x="367.2" y="622.7" font-size="10.8" fill="#4D4D4D" text-anchor="middle">0</text>
<line x1="409.04" y1="606.4" x2="409.04" y2="610.4" stroke="#333" stroke-width="1.2"/>
<text x="409.04" y="622.7" font-size="10.8" fill="#4D4D4D" text-anchor="middle">20</text>
<line x1="450.88" y1="606.4" x2="450.88" y2="610.4" stroke="#333" stroke-width="1.2"/>
<text x="450.88" y="622.7" font-size="10.8" fill="#4D4D4D" text-anchor="middle">40</text>
<clipPath id="cB13"><rect x="529.5" y="502.5" width="153.1" height="103.9"/></clipPath>
<g clip-path="url(#cB13)">
<rect x="567.15" y="502.5" width="1.88" height="103.9" fill="#F2F2F2"/>
<rect x="573.84" y="502.5" width="4.18" height="103.9" fill="#F2F2F2"/>
<rect x="582" y="502.5" width="4.18" height="103.9" fill="#F2F2F2"/>
<rect x="588.07" y="502.5" width="2.51" height="103.9" fill="#F2F2F2"/>
<rect x="592.67" y="502.5" width="10.46" height="103.9" fill="#F2F2F2"/>
<path d="M536.44,566.87L538.35,558.44L541.52,554.45L544.7,556.8L547.87,552.88L551.05,554.36L554.22,548.8L557.4,544.04L559.78,545.13L562.16,547.17L565.33,543.55L567.71,549.57L570.1,546.34L572.48,543.96L574.06,544.45L576.44,549.55L579.62,551.39L582.79,552.95L585.97,554.65L589.14,553.17L592.32,553.57L595.49,553.99L598.67,555.21L601.84,556.33L605.02,554.93L606.92,555.05L608.35,547.2L611.52,549.61L614.7,549.09L617.87,547.74L621.05,550.75L624.22,550.19L627.4,548.72L630.57,549.4L633.75,548.04L636.92,546.77L640.1,546.21L642.48,544.82L644.86,541.01L648.03,538.63L650.41,538.69L652.79,539.96L655.17,543.53L657.08,546.4L657.08,562.27L654.38,565.88L652,561.52L649.62,563.26L648.03,566.41L644.86,568L642.48,569.42L640.1,570.81L638.19,578.61L636.6,599.12L635.33,578.39L632.95,573.34L630.57,574.79L628.19,578.05L625.81,573.32L623.43,577.91L621.05,590.44L618.67,584.21L616.29,576.21L613.9,577.59L611.52,586.91L609.14,578.95L606.92,591.55L603.43,592.93L600.25,591.15L597.87,595.58L595.49,588.91L593.11,591.77L590.73,600.98L588.35,594.42L585.97,580.05L583.59,575.2L581.21,584.65L578.83,581.64L576.44,570.98L574.06,580.96L571.68,573.4L569.3,582.81L567.71,605.12L566.13,586.3L564.54,573.82L562.16,578.92L559.78,568.14L557.4,567.05L554.22,569.44L551.05,573.41L547.87,575.11L544.7,574.26L541.52,571.91L538.35,572.73L536.44,576.39L536.44,566.87Z" fill="#56B4E9" fill-opacity="0.26"/>
<path d="M536.44,567.38L538.35,551.02L540.73,546.44L543.9,539.27L546.29,545.01L548.67,548.65L551.84,544.4L555.02,539.74L557.4,536.05L558.98,536.5L561.37,540.03L562.95,528.6L565.33,539.24L567.71,541.94L570.1,525.99L571.68,538.79L574.06,513.44L575.65,530.31L578.03,537.6L580.41,532.7L582.79,526.24L585.17,534.06L587.56,537.12L590.73,534.17L593.9,535.68L597.08,534.8L600.25,534.22L603.43,536.25L606.6,540.65L609.14,541.2L611.52,538.1L613.9,541.36L617.08,536.07L619.46,544.17L622.63,541.94L625.81,539.77L628.19,544.67L630.57,543.2L633.75,537.03L636.13,545.14L638.51,541.93L640.89,545.08L643.27,541.95L645.65,542.72L648.03,541.85L650.41,538.6L652.79,531.4L655.17,535.32L657.56,536.85L659.94,539.17L661.52,535.94L663.9,539.67L666.29,544.2L668.67,534.47L669.94,532.87L669.94,570.96L668.67,569.39L667.08,564.76L664.7,568.96L662.32,566.81L659.94,562.19L657.56,559.07L657.08,559.88L654.38,560.73L651.21,562.39L648.03,565.66L644.86,564.17L641.68,565.7L638.51,568.12L635.33,568.96L632.16,571.05L628.98,570.11L625.81,571.52L623.43,574.51L621.05,579.17L617.87,575.85L614.7,574.72L611.52,572.23L608.35,570.43L606.92,569.27L605.02,569.8L601.84,567.77L598.67,565.77L595.49,567.38L593.11,569.03L590.73,575.44L589.14,570.64L586.76,568.9L584.38,565.84L582,560.4L579.62,559.73L577.24,558.3L574.86,554.42L572.48,545.19L570.1,556.15L567.71,551.47L565.33,558.29L563.75,564.95L561.37,568.6L559.78,567.32L557.4,567.8L555.02,571.49L551.84,576.94L549.14,585.17L547.87,581.97L544.7,577.95L541.52,574.01L538.35,577.21L536.44,594.36Z" fill="#CD3034" fill-opacity="0.29"/>
<line x1="559.2" y1="502.5" x2="559.2" y2="606.4" stroke="#000" stroke-width="1.15"/>
<path d="M536.2,567.7C538.1,566.88 543.8,563.9 547.6,562.8C551.4,561.7 555.5,561.33 559,561.1C562.5,560.87 565.25,560.97 568.6,561.4C571.95,561.83 575.6,562.73 579.1,563.7C582.6,564.67 586.1,566.18 589.6,567.2C593.1,568.22 596.9,569.5 600.1,569.8C603.3,570.1 605.88,569.43 608.8,569C611.72,568.57 614.68,568 617.6,567.2C620.52,566.4 623.38,565.37 626.3,564.2C629.22,563.03 632.18,561.6 635.1,560.2C638.02,558.8 641.18,557.27 643.8,555.8C646.42,554.33 648.6,553 650.8,551.4C653,549.8 655.97,547.07 657,546.2" fill="none" stroke="#56B4E9" stroke-width="1.4"/>
<path d="M536.2,571.2C538.1,569.52 543.8,563.95 547.6,561.1C551.4,558.25 555.5,556 559,554.1C562.5,552.2 565.55,550.72 568.6,549.7C571.65,548.68 574.08,548.08 577.3,548C580.52,547.92 584.1,548.33 587.9,549.2C591.7,550.07 596.62,552.03 600.1,553.2C603.58,554.37 605.88,555.53 608.8,556.2C611.72,556.87 614.68,557.03 617.6,557.2C620.52,557.37 623.38,557.28 626.3,557.2C629.22,557.12 632.18,557.08 635.1,556.7C638.02,556.32 640.88,555.63 643.8,554.9C646.72,554.17 649.67,553.17 652.6,552.3C655.53,551.43 657.75,550.92 661.4,549.7C665.05,548.48 672.32,545.78 674.5,545" fill="none" stroke="#CD3034" stroke-width="1.4" stroke-dasharray="5.5,5"/>
</g>
<rect x="529.5" y="502.5" width="153.1" height="103.9" fill="none" stroke="#333" stroke-width="1"/>
<rect x="529.5" y="475.6" width="153.1" height="26.9" fill="#D9D9D9" stroke="#333" stroke-width="1"/>
<text x="606.05" y="491.8" fill="#1A1A1A" text-anchor="middle"><tspan font-size="11.3">TRI</tspan><tspan font-size="8" dy="1.7">in</tspan></text>
<line x1="525.3" y1="578.5" x2="529.5" y2="578.5" stroke="#333" stroke-width="1"/>
<text x="521.9" y="583.3" font-size="10.8" fill="#4D4D4D" text-anchor="end">0.90</text>
<line x1="525.3" y1="547.5" x2="529.5" y2="547.5" stroke="#333" stroke-width="1"/>
<text x="521.9" y="552" font-size="10.8" fill="#4D4D4D" text-anchor="end">0.95</text>
<line x1="525.3" y1="515.5" x2="529.5" y2="515.5" stroke="#333" stroke-width="1"/>
<text x="521.9" y="520.6" font-size="10.8" fill="#4D4D4D" text-anchor="end">1.00</text>
<line x1="559.2" y1="606.4" x2="559.2" y2="610.4" stroke="#333" stroke-width="1.2"/>
<text x="559.2" y="622.7" font-size="10.8" fill="#4D4D4D" text-anchor="middle">0</text>
<line x1="601.04" y1="606.4" x2="601.04" y2="610.4" stroke="#333" stroke-width="1.2"/>
<text x="601.04" y="622.7" font-size="10.8" fill="#4D4D4D" text-anchor="middle">20</text>
<line x1="642.88" y1="606.4" x2="642.88" y2="610.4" stroke="#333" stroke-width="1.2"/>
<text x="642.88" y="622.7" font-size="10.8" fill="#4D4D4D" text-anchor="middle">40</text>
<line x1="415.9" y1="110.3" x2="435.8" y2="110.3" stroke="#56B4E9" stroke-width="1.4"/>
<line x1="415.9" y1="121.0" x2="435.8" y2="121.0" stroke="#CD3034" stroke-width="1.4" stroke-dasharray="6,5.2"/>
<text x="446.7" y="114.8" font-size="12.3" fill="#000" text-anchor="start">WW</text>
<text x="446.7" y="126" font-size="12.3" fill="#000" text-anchor="start">WD</text>
<text x="510" y="637.3" font-size="11.1" fill="#000" text-anchor="middle">Days after V5 drought</text>
<text x="0" y="0" font-size="11.1" fill="#000" text-anchor="middle" transform="translate(298.6,318.6) rotate(-90)">Index value</text>
<text x="280.2" y="11.8" font-size="14" fill="#000" text-anchor="start" font-weight="bold">B</text>
</svg></body></html>
